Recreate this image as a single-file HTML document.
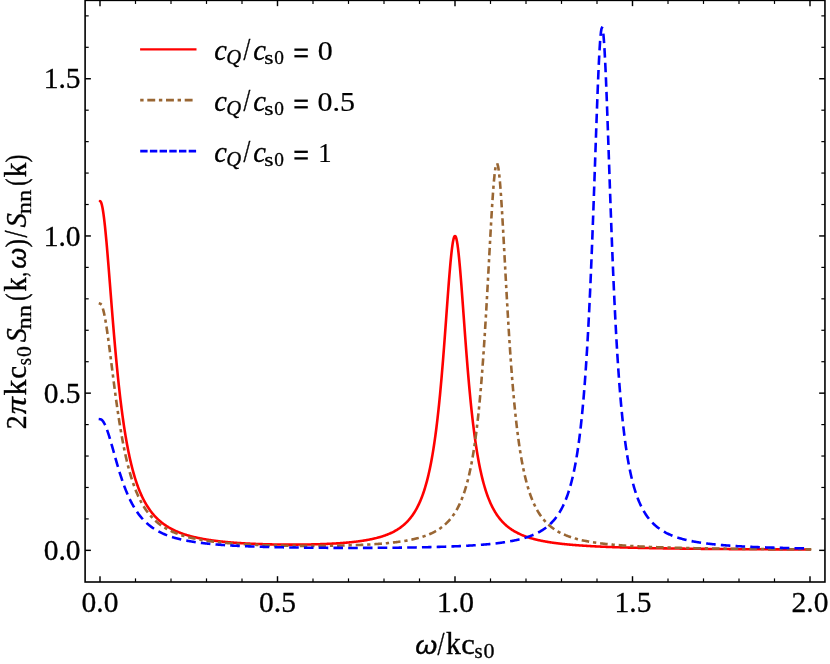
<!DOCTYPE html>
<html><head><meta charset="utf-8"><title>plot</title>
<style>
html,body{margin:0;padding:0;background:#fff;}
body{width:830px;height:664px;overflow:hidden;}
svg{display:block;will-change:transform;}
text{font-family:"Liberation Serif",serif;fill:#000;stroke:#000;}
.i{font-style:italic;}
.si{font-style:italic;font-family:"Liberation Sans",sans-serif;}
</style></head><body>
<svg width="830" height="664" viewBox="0 0 830 664">
<rect x="0" y="0" width="830" height="664" fill="#fff"/>
<!-- curves -->
<g fill="none" stroke-width="2.6" stroke-linejoin="round" stroke-linecap="square" transform="scale(1,0.987459)">
<path id="c-red" d="M100.00,203.600 L100.50,203.879 L101.00,204.716 L101.50,206.100 L102.00,208.021 L102.50,210.459 L103.00,213.393 L103.50,216.797 L104.00,220.642 L104.50,224.896 L105.00,229.524 L105.50,234.491 L106.00,239.761 L106.50,245.296 L107.00,251.061 L107.50,257.020 L108.00,263.137 L108.50,269.380 L109.00,275.717 L109.50,282.119 L110.00,288.558 L110.50,295.009 L111.00,301.448 L111.50,307.856 L112.00,314.213 L112.50,320.503 L113.00,326.712 L113.50,332.827 L114.00,338.837 L114.50,344.734 L115.00,350.510 L115.50,356.159 L116.00,361.677 L116.50,367.060 L117.00,372.305 L117.50,377.411 L118.00,382.377 L118.50,387.204 L119.00,391.891 L119.50,396.440 L120.00,400.853 L120.50,405.131 L121.00,409.278 L121.50,413.294 L122.00,417.184 L122.50,420.951 L123.00,424.596 L123.50,428.124 L124.00,431.538 L124.50,434.840 L125.00,438.036 L125.50,441.126 L126.00,444.116 L126.50,447.008 L127.00,449.806 L127.50,452.512 L128.00,455.129 L128.50,457.662 L129.00,460.112 L129.50,462.483 L130.00,464.777 L130.50,466.997 L131.00,469.147 L131.50,471.227 L132.00,473.241 L132.50,475.192 L133.00,477.081 L133.50,478.910 L134.00,480.683 L134.50,482.400 L135.00,484.065 L135.50,485.678 L136.00,487.242 L136.50,488.759 L137.00,490.230 L137.50,491.656 L138.00,493.040 L138.50,494.383 L139.00,495.687 L139.50,496.953 L140.00,498.181 L140.50,499.374 L141.00,500.533 L141.50,501.659 L142.00,502.753 L142.50,503.816 L143.00,504.850 L143.50,505.854 L144.00,506.832 L144.50,507.782 L145.00,508.706 L145.50,509.606 L146.00,510.481 L146.50,511.333 L147.00,512.162 L147.50,512.970 L148.00,513.756 L148.50,514.522 L149.00,515.269 L149.50,515.996 L150.00,516.704 L150.50,517.395 L151.00,518.069 L151.50,518.725 L152.00,519.366 L152.50,519.990 L153.00,520.600 L153.50,521.194 L154.00,521.774 L154.50,522.341 L155.00,522.893 L155.50,523.433 L156.00,523.960 L156.50,524.475 L157.00,524.978 L157.50,525.469 L158.00,525.949 L158.50,526.418 L159.00,526.876 L159.50,527.324 L160.00,527.762 L160.50,528.191 L161.00,528.610 L161.50,529.019 L162.00,529.420 L162.50,529.812 L163.00,530.196 L163.50,530.572 L164.00,530.939 L164.50,531.299 L165.00,531.651 L165.50,531.996 L166.00,532.333 L166.50,532.664 L167.00,532.988 L167.50,533.305 L168.00,533.616 L168.50,533.921 L169.00,534.219 L169.50,534.512 L170.00,534.799 L170.50,535.080 L171.00,535.355 L171.50,535.625 L172.00,535.890 L172.50,536.150 L173.00,536.405 L173.50,536.655 L174.00,536.900 L174.50,537.141 L175.00,537.377 L175.50,537.609 L176.00,537.836 L176.50,538.059 L177.00,538.278 L177.50,538.493 L178.00,538.705 L178.50,538.912 L179.00,539.116 L179.50,539.316 L180.00,539.512 L180.50,539.705 L181.00,539.894 L181.50,540.081 L182.00,540.263 L182.50,540.443 L183.00,540.620 L183.50,540.793 L184.00,540.964 L184.50,541.132 L185.00,541.296 L185.50,541.458 L186.00,541.618 L186.50,541.774 L187.00,541.928 L187.50,542.080 L188.00,542.229 L188.50,542.375 L189.00,542.519 L189.50,542.661 L190.00,542.800 L190.50,542.938 L191.00,543.073 L191.50,543.205 L192.00,543.336 L192.50,543.465 L193.00,543.591 L193.50,543.716 L194.00,543.838 L194.50,543.959 L195.00,544.078 L195.50,544.195 L196.00,544.310 L196.50,544.423 L197.00,544.535 L197.50,544.644 L198.00,544.753 L198.50,544.859 L199.00,544.964 L199.50,545.067 L200.00,545.169 L200.50,545.269 L201.00,545.368 L201.50,545.465 L202.00,545.561 L202.50,545.656 L203.00,545.749 L203.50,545.840 L204.00,545.930 L204.50,546.019 L205.00,546.107 L205.50,546.193 L206.00,546.279 L206.50,546.362 L207.00,546.445 L207.50,546.527 L208.00,546.607 L208.50,546.686 L209.00,546.764 L209.50,546.841 L210.00,546.917 L210.50,546.992 L211.00,547.065 L211.50,547.138 L212.00,547.210 L212.50,547.280 L213.00,547.350 L213.50,547.419 L214.00,547.486 L214.50,547.553 L215.00,547.619 L215.50,547.684 L216.00,547.748 L216.50,547.811 L217.00,547.873 L217.50,547.935 L218.00,547.995 L218.50,548.055 L219.00,548.114 L219.50,548.172 L220.00,548.229 L220.50,548.286 L221.00,548.341 L221.50,548.396 L222.00,548.451 L222.50,548.504 L223.00,548.557 L223.50,548.609 L224.00,548.660 L224.50,548.711 L225.00,548.761 L225.50,548.810 L226.00,548.859 L226.50,548.907 L227.00,548.954 L227.50,549.001 L228.00,549.047 L228.50,549.092 L229.00,549.137 L229.50,549.181 L230.00,549.225 L230.50,549.268 L231.00,549.310 L231.50,549.352 L232.00,549.393 L232.50,549.434 L233.00,549.474 L233.50,549.514 L234.00,549.553 L234.50,549.592 L235.00,549.630 L235.50,549.667 L236.00,549.704 L236.50,549.741 L237.00,549.777 L237.50,549.812 L238.00,549.847 L238.50,549.882 L239.00,549.916 L239.50,549.949 L240.00,549.982 L240.50,550.015 L241.00,550.047 L241.50,550.079 L242.00,550.110 L242.50,550.141 L243.00,550.171 L243.50,550.201 L244.00,550.231 L244.50,550.260 L245.00,550.289 L245.50,550.317 L246.00,550.345 L246.50,550.372 L247.00,550.400 L247.50,550.426 L248.00,550.453 L248.50,550.478 L249.00,550.504 L249.50,550.529 L250.00,550.554 L250.50,550.578 L251.00,550.602 L251.50,550.626 L252.00,550.649 L252.50,550.672 L253.00,550.695 L253.50,550.717 L254.00,550.739 L254.50,550.760 L255.00,550.782 L255.50,550.802 L256.00,550.823 L256.50,550.843 L257.00,550.863 L257.50,550.882 L258.00,550.901 L258.50,550.920 L259.00,550.939 L259.50,550.957 L260.00,550.975 L260.50,550.992 L261.00,551.010 L261.50,551.027 L262.00,551.043 L262.50,551.060 L263.00,551.076 L263.50,551.091 L264.00,551.107 L264.50,551.122 L265.00,551.137 L265.50,551.151 L266.00,551.165 L266.50,551.179 L267.00,551.193 L267.50,551.206 L268.00,551.219 L268.50,551.232 L269.00,551.245 L269.50,551.257 L270.00,551.269 L270.50,551.280 L271.00,551.292 L271.50,551.303 L272.00,551.314 L272.50,551.324 L273.00,551.334 L273.50,551.344 L274.00,551.354 L274.50,551.364 L275.00,551.373 L275.50,551.382 L276.00,551.390 L276.50,551.399 L277.00,551.407 L277.50,551.414 L278.00,551.422 L278.50,551.429 L279.00,551.436 L279.50,551.443 L280.00,551.450 L280.50,551.456 L281.00,551.462 L281.50,551.468 L282.00,551.473 L282.50,551.478 L283.00,551.483 L283.50,551.488 L284.00,551.492 L284.50,551.496 L285.00,551.500 L285.50,551.504 L286.00,551.507 L286.50,551.510 L287.00,551.513 L287.50,551.516 L288.00,551.518 L288.50,551.520 L289.00,551.522 L289.50,551.523 L290.00,551.525 L290.50,551.526 L291.00,551.526 L291.50,551.527 L292.00,551.527 L292.50,551.527 L293.00,551.527 L293.50,551.526 L294.00,551.525 L294.50,551.524 L295.00,551.523 L295.50,551.521 L296.00,551.519 L296.50,551.517 L297.00,551.515 L297.50,551.512 L298.00,551.509 L298.50,551.506 L299.00,551.502 L299.50,551.498 L300.00,551.494 L300.50,551.490 L301.00,551.485 L301.50,551.480 L302.00,551.475 L302.50,551.469 L303.00,551.464 L303.50,551.458 L304.00,551.451 L304.50,551.445 L305.00,551.438 L305.50,551.430 L306.00,551.423 L306.50,551.415 L307.00,551.407 L307.50,551.399 L308.00,551.390 L308.50,551.381 L309.00,551.371 L309.50,551.362 L310.00,551.352 L310.50,551.342 L311.00,551.331 L311.50,551.320 L312.00,551.309 L312.50,551.297 L313.00,551.286 L313.50,551.273 L314.00,551.261 L314.50,551.248 L315.00,551.235 L315.50,551.221 L316.00,551.207 L316.50,551.193 L317.00,551.179 L317.50,551.164 L318.00,551.149 L318.50,551.133 L319.00,551.117 L319.50,551.101 L320.00,551.084 L320.50,551.067 L321.00,551.049 L321.50,551.032 L322.00,551.013 L322.50,550.995 L323.00,550.976 L323.50,550.956 L324.00,550.937 L324.50,550.916 L325.00,550.896 L325.50,550.875 L326.00,550.853 L326.50,550.831 L327.00,550.809 L327.50,550.786 L328.00,550.763 L328.50,550.740 L329.00,550.716 L329.50,550.691 L330.00,550.666 L330.50,550.641 L331.00,550.615 L331.50,550.588 L332.00,550.561 L332.50,550.534 L333.00,550.506 L333.50,550.478 L334.00,550.449 L334.50,550.420 L335.00,550.390 L335.50,550.359 L336.00,550.328 L336.50,550.297 L337.00,550.265 L337.50,550.232 L338.00,550.199 L338.50,550.165 L339.00,550.130 L339.50,550.095 L340.00,550.060 L340.50,550.024 L341.00,549.987 L341.50,549.949 L342.00,549.911 L342.50,549.872 L343.00,549.833 L343.50,549.793 L344.00,549.752 L344.50,549.711 L345.00,549.668 L345.50,549.626 L346.00,549.582 L346.50,549.538 L347.00,549.492 L347.50,549.447 L348.00,549.400 L348.50,549.353 L349.00,549.304 L349.50,549.255 L350.00,549.205 L350.50,549.155 L351.00,549.103 L351.50,549.050 L352.00,548.997 L352.50,548.943 L353.00,548.888 L353.50,548.831 L354.00,548.774 L354.50,548.716 L355.00,548.657 L355.50,548.597 L356.00,548.536 L356.50,548.474 L357.00,548.411 L357.50,548.346 L358.00,548.281 L358.50,548.215 L359.00,548.147 L359.50,548.078 L360.00,548.008 L360.50,547.937 L361.00,547.864 L361.50,547.790 L362.00,547.715 L362.50,547.639 L363.00,547.561 L363.50,547.482 L364.00,547.402 L364.50,547.320 L365.00,547.237 L365.50,547.152 L366.00,547.065 L366.50,546.977 L367.00,546.888 L367.50,546.797 L368.00,546.704 L368.50,546.610 L369.00,546.513 L369.50,546.415 L370.00,546.316 L370.50,546.214 L371.00,546.111 L371.50,546.005 L372.00,545.898 L372.50,545.789 L373.00,545.677 L373.50,545.564 L374.00,545.448 L374.50,545.330 L375.00,545.210 L375.50,545.088 L376.00,544.963 L376.50,544.836 L377.00,544.706 L377.50,544.574 L378.00,544.439 L378.50,544.302 L379.00,544.162 L379.50,544.019 L380.00,543.873 L380.50,543.725 L381.00,543.573 L381.50,543.418 L382.00,543.260 L382.50,543.099 L383.00,542.935 L383.50,542.767 L384.00,542.595 L384.50,542.420 L385.00,542.242 L385.50,542.059 L386.00,541.873 L386.50,541.683 L387.00,541.489 L387.50,541.290 L388.00,541.087 L388.50,540.880 L389.00,540.668 L389.50,540.452 L390.00,540.230 L390.50,540.004 L391.00,539.773 L391.50,539.536 L392.00,539.294 L392.50,539.046 L393.00,538.793 L393.50,538.534 L394.00,538.269 L394.50,537.997 L395.00,537.719 L395.50,537.435 L396.00,537.144 L396.50,536.845 L397.00,536.540 L397.50,536.227 L398.00,535.906 L398.50,535.577 L399.00,535.240 L399.50,534.895 L400.00,534.541 L400.50,534.177 L401.00,533.805 L401.50,533.423 L402.00,533.031 L402.50,532.628 L403.00,532.215 L403.50,531.791 L404.00,531.356 L404.50,530.909 L405.00,530.449 L405.50,529.977 L406.00,529.492 L406.50,528.994 L407.00,528.481 L407.50,527.954 L408.00,527.412 L408.50,526.855 L409.00,526.281 L409.50,525.691 L410.00,525.083 L410.50,524.457 L411.00,523.812 L411.50,523.148 L412.00,522.464 L412.50,521.759 L413.00,521.032 L413.50,520.283 L414.00,519.510 L414.50,518.713 L415.00,517.890 L415.50,517.040 L416.00,516.164 L416.50,515.258 L417.00,514.323 L417.50,513.356 L418.00,512.357 L418.50,511.325 L419.00,510.257 L419.50,509.153 L420.00,508.010 L420.50,506.828 L421.00,505.603 L421.50,504.336 L422.00,503.023 L422.50,501.663 L423.00,500.253 L423.50,498.792 L424.00,497.276 L424.50,495.705 L425.00,494.074 L425.50,492.382 L426.00,490.626 L426.50,488.802 L427.00,486.908 L427.50,484.941 L428.00,482.896 L428.50,480.772 L429.00,478.563 L429.50,476.267 L430.00,473.880 L430.50,471.396 L431.00,468.813 L431.50,466.125 L432.00,463.328 L432.50,460.417 L433.00,457.388 L433.50,454.236 L434.00,450.956 L434.50,447.541 L435.00,443.989 L435.50,440.292 L436.00,436.446 L436.50,432.447 L437.00,428.289 L437.50,423.967 L438.00,419.477 L438.50,414.816 L439.00,409.979 L439.50,404.964 L440.00,399.769 L440.50,394.393 L441.00,388.835 L441.50,383.099 L442.00,377.186 L442.50,371.101 L443.00,364.852 L443.50,358.449 L444.00,351.903 L444.50,345.229 L445.00,338.447 L445.50,331.577 L446.00,324.648 L446.50,317.687 L447.00,310.729 L447.50,303.813 L448.00,296.981 L448.50,290.279 L449.00,283.756 L449.50,277.467 L450.00,271.465 L450.50,265.808 L451.00,260.553 L451.50,255.755 L452.00,251.470 L452.50,247.748 L453.00,244.634 L453.50,242.169 L454.00,240.385 L454.50,239.306 L455.00,238.947 L455.50,239.312 L456.00,240.396 L456.50,242.185 L457.00,244.656 L457.50,247.774 L458.00,251.502 L458.50,255.793 L459.00,260.595 L459.50,265.856 L460.00,271.518 L460.50,277.525 L461.00,283.820 L461.50,290.348 L462.00,297.055 L462.50,303.893 L463.00,310.815 L463.50,317.777 L464.00,324.744 L464.50,331.679 L465.00,338.553 L465.50,345.341 L466.00,352.020 L466.50,358.572 L467.00,364.981 L467.50,371.235 L468.00,377.325 L468.50,383.243 L469.00,388.985 L469.50,394.548 L470.00,399.929 L470.50,405.130 L471.00,410.150 L471.50,414.992 L472.00,419.659 L472.50,424.154 L473.00,428.482 L473.50,432.645 L474.00,436.650 L474.50,440.501 L475.00,444.203 L475.50,447.761 L476.00,451.181 L476.50,454.467 L477.00,457.625 L477.50,460.659 L478.00,463.575 L478.50,466.377 L479.00,469.071 L479.50,471.660 L480.00,474.149 L480.50,476.542 L481.00,478.843 L481.50,481.057 L482.00,483.187 L482.50,485.237 L483.00,487.210 L483.50,489.109 L484.00,490.939 L484.50,492.701 L485.00,494.398 L485.50,496.034 L486.00,497.611 L486.50,499.132 L487.00,500.599 L487.50,502.015 L488.00,503.380 L488.50,504.699 L489.00,505.972 L489.50,507.202 L490.00,508.390 L490.50,509.538 L491.00,510.648 L491.50,511.722 L492.00,512.760 L492.50,513.765 L493.00,514.737 L493.50,515.678 L494.00,516.589 L494.50,517.471 L495.00,518.326 L495.50,519.155 L496.00,519.958 L496.50,520.737 L497.00,521.492 L497.50,522.225 L498.00,522.935 L498.50,523.625 L499.00,524.295 L499.50,524.946 L500.00,525.577 L500.50,526.191 L501.00,526.787 L501.50,527.367 L502.00,527.930 L502.50,528.478 L503.00,529.011 L503.50,529.529 L504.00,530.034 L504.50,530.525 L505.00,531.003 L505.50,531.468 L506.00,531.921 L506.50,532.362 L507.00,532.792 L507.50,533.212 L508.00,533.620 L508.50,534.018 L509.00,534.406 L509.50,534.785 L510.00,535.154 L510.50,535.514 L511.00,535.866 L511.50,536.209 L512.00,536.544 L512.50,536.871 L513.00,537.190 L513.50,537.502 L514.00,537.807 L514.50,538.104 L515.00,538.395 L515.50,538.679 L516.00,538.957 L516.50,539.228 L517.00,539.494 L517.50,539.753 L518.00,540.007 L518.50,540.255 L519.00,540.498 L519.50,540.736 L520.00,540.969 L520.50,541.197 L521.00,541.420 L521.50,541.638 L522.00,541.852 L522.50,542.061 L523.00,542.266 L523.50,542.467 L524.00,542.664 L524.50,542.857 L525.00,543.046 L525.50,543.231 L526.00,543.413 L526.50,543.591 L527.00,543.765 L527.50,543.936 L528.00,544.104 L528.50,544.269 L529.00,544.430 L529.50,544.589 L530.00,544.744 L530.50,544.897 L531.00,545.047 L531.50,545.194 L532.00,545.338 L532.50,545.480 L533.00,545.619 L533.50,545.755 L534.00,545.890 L534.50,546.021 L535.00,546.151 L535.50,546.278 L536.00,546.403 L536.50,546.526 L537.00,546.646 L537.50,546.765 L538.00,546.881 L538.50,546.996 L539.00,547.109 L539.50,547.219 L540.00,547.328 L540.50,547.435 L541.00,547.540 L541.50,547.644 L542.00,547.746 L542.50,547.846 L543.00,547.945 L543.50,548.042 L544.00,548.137 L544.50,548.231 L545.00,548.323 L545.50,548.414 L546.00,548.504 L546.50,548.592 L547.00,548.679 L547.50,548.764 L548.00,548.849 L548.50,548.931 L549.00,549.013 L549.50,549.093 L550.00,549.172 L550.50,549.250 L551.00,549.327 L551.50,549.403 L552.00,549.477 L552.50,549.551 L553.00,549.623 L553.50,549.695 L554.00,549.765 L554.50,549.834 L555.00,549.903 L555.50,549.970 L556.00,550.036 L556.50,550.102 L557.00,550.166 L557.50,550.230 L558.00,550.292 L558.50,550.354 L559.00,550.415 L559.50,550.475 L560.00,550.535 L560.50,550.593 L561.00,550.651 L561.50,550.708 L562.00,550.764 L562.50,550.820 L563.00,550.874 L563.50,550.928 L564.00,550.982 L564.50,551.034 L565.00,551.086 L565.50,551.137 L566.00,551.188 L566.50,551.238 L567.00,551.287 L567.50,551.336 L568.00,551.384 L568.50,551.431 L569.00,551.478 L569.50,551.524 L570.00,551.570 L570.50,551.615 L571.00,551.660 L571.50,551.704 L572.00,551.747 L572.50,551.790 L573.00,551.832 L573.50,551.874 L574.00,551.916 L574.50,551.957 L575.00,551.997 L575.50,552.037 L576.00,552.076 L576.50,552.115 L577.00,552.154 L577.50,552.192 L578.00,552.229 L578.50,552.267 L579.00,552.303 L579.50,552.340 L580.00,552.376 L580.50,552.411 L581.00,552.446 L581.50,552.481 L582.00,552.515 L582.50,552.549 L583.00,552.583 L583.50,552.616 L584.00,552.649 L584.50,552.681 L585.00,552.713 L585.50,552.745 L586.00,552.776 L586.50,552.807 L587.00,552.838 L587.50,552.868 L588.00,552.898 L588.50,552.928 L589.00,552.957 L589.50,552.986 L590.00,553.015 L590.50,553.044 L591.00,553.072 L591.50,553.100 L592.00,553.127 L592.50,553.155 L593.00,553.182 L593.50,553.208 L594.00,553.235 L594.50,553.261 L595.00,553.287 L595.50,553.312 L596.00,553.338 L596.50,553.363 L597.00,553.388 L597.50,553.412 L598.00,553.437 L598.50,553.461 L599.00,553.485 L599.50,553.509 L600.00,553.532 L600.50,553.555 L601.00,553.578 L601.50,553.601 L602.00,553.623 L602.50,553.646 L603.00,553.668 L603.50,553.690 L604.00,553.711 L604.50,553.733 L605.00,553.754 L605.50,553.775 L606.00,553.796 L606.50,553.817 L607.00,553.837 L607.50,553.857 L608.00,553.877 L608.50,553.897 L609.00,553.917 L609.50,553.936 L610.00,553.956 L610.50,553.975 L611.00,553.994 L611.50,554.013 L612.00,554.031 L612.50,554.050 L613.00,554.068 L613.50,554.086 L614.00,554.104 L614.50,554.122 L615.00,554.140 L615.50,554.157 L616.00,554.175 L616.50,554.192 L617.00,554.209 L617.50,554.226 L618.00,554.243 L618.50,554.259 L619.00,554.276 L619.50,554.292 L620.00,554.308 L620.50,554.324 L621.00,554.340 L621.50,554.356 L622.00,554.371 L622.50,554.387 L623.00,554.402 L623.50,554.418 L624.00,554.433 L624.50,554.448 L625.00,554.462 L625.50,554.477 L626.00,554.492 L626.50,554.506 L627.00,554.521 L627.50,554.535 L628.00,554.549 L628.50,554.563 L629.00,554.577 L629.50,554.591 L630.00,554.604 L630.50,554.618 L631.00,554.631 L631.50,554.645 L632.00,554.658 L632.50,554.671 L633.00,554.684 L633.50,554.697 L634.00,554.710 L634.50,554.723 L635.00,554.735 L635.50,554.748 L636.00,554.760 L636.50,554.773 L637.00,554.785 L637.50,554.797 L638.00,554.809 L638.50,554.821 L639.00,554.833 L639.50,554.844 L640.00,554.856 L640.50,554.868 L641.00,554.879 L641.50,554.891 L642.00,554.902 L642.50,554.913 L643.00,554.924 L643.50,554.935 L644.00,554.946 L644.50,554.957 L645.00,554.968 L645.50,554.979 L646.00,554.990 L646.50,555.000 L647.00,555.011 L647.50,555.021 L648.00,555.031 L648.50,555.042 L649.00,555.052 L649.50,555.062 L650.00,555.072 L650.50,555.082 L651.00,555.092 L651.50,555.102 L652.00,555.112 L652.50,555.121 L653.00,555.131 L653.50,555.140 L654.00,555.150 L654.50,555.159 L655.00,555.169 L655.50,555.178 L656.00,555.187 L656.50,555.196 L657.00,555.206 L657.50,555.215 L658.00,555.224 L658.50,555.232 L659.00,555.241 L659.50,555.250 L660.00,555.259 L660.50,555.267 L661.00,555.276 L661.50,555.285 L662.00,555.293 L662.50,555.302 L663.00,555.310 L663.50,555.318 L664.00,555.327 L664.50,555.335 L665.00,555.343 L665.50,555.351 L666.00,555.359 L666.50,555.367 L667.00,555.375 L667.50,555.383 L668.00,555.391 L668.50,555.398 L669.00,555.406 L669.50,555.414 L670.00,555.422 L670.50,555.429 L671.00,555.437 L671.50,555.444 L672.00,555.452 L672.50,555.459 L673.00,555.466 L673.50,555.474 L674.00,555.481 L674.50,555.488 L675.00,555.495 L675.50,555.502 L676.00,555.509 L676.50,555.516 L677.00,555.523 L677.50,555.530 L678.00,555.537 L678.50,555.544 L679.00,555.551 L679.50,555.558 L680.00,555.564 L680.50,555.571 L681.00,555.578 L681.50,555.584 L682.00,555.591 L682.50,555.597 L683.00,555.604 L683.50,555.610 L684.00,555.617 L684.50,555.623 L685.00,555.629 L685.50,555.636 L686.00,555.642 L686.50,555.648 L687.00,555.654 L687.50,555.660 L688.00,555.666 L688.50,555.672 L689.00,555.678 L689.50,555.684 L690.00,555.690 L690.50,555.696 L691.00,555.702 L691.50,555.708 L692.00,555.714 L692.50,555.720 L693.00,555.725 L693.50,555.731 L694.00,555.737 L694.50,555.742 L695.00,555.748 L695.50,555.754 L696.00,555.759 L696.50,555.765 L697.00,555.770 L697.50,555.776 L698.00,555.781 L698.50,555.786 L699.00,555.792 L699.50,555.797 L700.00,555.802 L700.50,555.808 L701.00,555.813 L701.50,555.818 L702.00,555.823 L702.50,555.828 L703.00,555.833 L703.50,555.839 L704.00,555.844 L704.50,555.849 L705.00,555.854 L705.50,555.859 L706.00,555.864 L706.50,555.869 L707.00,555.873 L707.50,555.878 L708.00,555.883 L708.50,555.888 L709.00,555.893 L709.50,555.898 L710.00,555.902 L710.50,555.907 L711.00,555.912 L711.50,555.916 L712.00,555.921 L712.50,555.926 L713.00,555.930 L713.50,555.935 L714.00,555.939 L714.50,555.944 L715.00,555.948 L715.50,555.953 L716.00,555.957 L716.50,555.962 L717.00,555.966 L717.50,555.970 L718.00,555.975 L718.50,555.979 L719.00,555.983 L719.50,555.988 L720.00,555.992 L720.50,555.996 L721.00,556.000 L721.50,556.005 L722.00,556.009 L722.50,556.013 L723.00,556.017 L723.50,556.021 L724.00,556.025 L724.50,556.029 L725.00,556.033 L725.50,556.037 L726.00,556.041 L726.50,556.045 L727.00,556.049 L727.50,556.053 L728.00,556.057 L728.50,556.061 L729.00,556.065 L729.50,556.069 L730.00,556.073 L730.50,556.076 L731.00,556.080 L731.50,556.084 L732.00,556.088 L732.50,556.092 L733.00,556.095 L733.50,556.099 L734.00,556.103 L734.50,556.106 L735.00,556.110 L735.50,556.114 L736.00,556.117 L736.50,556.121 L737.00,556.125 L737.50,556.128 L738.00,556.132 L738.50,556.135 L739.00,556.139 L739.50,556.142 L740.00,556.146 L740.50,556.149 L741.00,556.153 L741.50,556.156 L742.00,556.159 L742.50,556.163 L743.00,556.166 L743.50,556.170 L744.00,556.173 L744.50,556.176 L745.00,556.180 L745.50,556.183 L746.00,556.186 L746.50,556.190 L747.00,556.193 L747.50,556.196 L748.00,556.199 L748.50,556.202 L749.00,556.206 L749.50,556.209 L750.00,556.212 L750.50,556.215 L751.00,556.218 L751.50,556.221 L752.00,556.225 L752.50,556.228 L753.00,556.231 L753.50,556.234 L754.00,556.237 L754.50,556.240 L755.00,556.243 L755.50,556.246 L756.00,556.249 L756.50,556.252 L757.00,556.255 L757.50,556.258 L758.00,556.261 L758.50,556.264 L759.00,556.267 L759.50,556.270 L760.00,556.272 L760.50,556.275 L761.00,556.278 L761.50,556.281 L762.00,556.284 L762.50,556.287 L763.00,556.290 L763.50,556.292 L764.00,556.295 L764.50,556.298 L765.00,556.301 L765.50,556.303 L766.00,556.306 L766.50,556.309 L767.00,556.312 L767.50,556.314 L768.00,556.317 L768.50,556.320 L769.00,556.322 L769.50,556.325 L770.00,556.328 L770.50,556.330 L771.00,556.333 L771.50,556.336 L772.00,556.338 L772.50,556.341 L773.00,556.343 L773.50,556.346 L774.00,556.349 L774.50,556.351 L775.00,556.354 L775.50,556.356 L776.00,556.359 L776.50,556.361 L777.00,556.364 L777.50,556.366 L778.00,556.369 L778.50,556.371 L779.00,556.374 L779.50,556.376 L780.00,556.378 L780.50,556.381 L781.00,556.383 L781.50,556.386 L782.00,556.388 L782.50,556.390 L783.00,556.393 L783.50,556.395 L784.00,556.398 L784.50,556.400 L785.00,556.402 L785.50,556.405 L786.00,556.407 L786.50,556.409 L787.00,556.412 L787.50,556.414 L788.00,556.416 L788.50,556.418 L789.00,556.421 L789.50,556.423 L790.00,556.425 L790.50,556.427 L791.00,556.430 L791.50,556.432 L792.00,556.434 L792.50,556.436 L793.00,556.438 L793.50,556.441 L794.00,556.443 L794.50,556.445 L795.00,556.447 L795.50,556.449 L796.00,556.451 L796.50,556.453 L797.00,556.456 L797.50,556.458 L798.00,556.460 L798.50,556.462 L799.00,556.464 L799.50,556.466 L800.00,556.468 L800.50,556.470 L801.00,556.472 L801.50,556.474 L802.00,556.476 L802.50,556.478 L803.00,556.480 L803.50,556.482 L804.00,556.484 L804.50,556.486 L805.00,556.488 L805.50,556.490 L806.00,556.492 L806.50,556.494 L807.00,556.496 L807.50,556.498 L808.00,556.500 L808.50,556.502 L809.00,556.504 L809.50,556.506 L810.00,556.508" stroke="#ff0000" stroke-linecap="round"/>
<path id="c-brown" d="M100.00,307.499 L100.50,307.653 L101.00,308.113 L101.50,308.876 L102.00,309.936 L102.50,311.285 L103.00,312.915 L103.50,314.813 L104.00,316.966 L104.50,319.361 L105.00,321.982 L105.50,324.812 L106.00,327.834 L106.50,331.030 L107.00,334.383 L107.50,337.876 L108.00,341.489 L108.50,345.207 L109.00,349.012 L109.50,352.888 L110.00,356.820 L110.50,360.793 L111.00,364.794 L111.50,368.808 L112.00,372.826 L112.50,376.835 L113.00,380.826 L113.50,384.790 L114.00,388.718 L114.50,392.604 L115.00,396.441 L115.50,400.224 L116.00,403.947 L116.50,407.607 L117.00,411.200 L117.50,414.723 L118.00,418.174 L118.50,421.552 L119.00,424.854 L119.50,428.080 L120.00,431.229 L120.50,434.302 L121.00,437.298 L121.50,440.217 L122.00,443.061 L122.50,445.829 L123.00,448.523 L123.50,451.144 L124.00,453.693 L124.50,456.171 L125.00,458.580 L125.50,460.921 L126.00,463.196 L126.50,465.406 L127.00,467.553 L127.50,469.638 L128.00,471.663 L128.50,473.630 L129.00,475.540 L129.50,477.395 L130.00,479.196 L130.50,480.945 L131.00,482.643 L131.50,484.293 L132.00,485.895 L132.50,487.451 L133.00,488.962 L133.50,490.430 L134.00,491.856 L134.50,493.242 L135.00,494.588 L135.50,495.896 L136.00,497.167 L136.50,498.402 L137.00,499.603 L137.50,500.771 L138.00,501.906 L138.50,503.010 L139.00,504.084 L139.50,505.128 L140.00,506.144 L140.50,507.132 L141.00,508.094 L141.50,509.030 L142.00,509.941 L142.50,510.827 L143.00,511.691 L143.50,512.532 L144.00,513.351 L144.50,514.148 L145.00,514.926 L145.50,515.683 L146.00,516.421 L146.50,517.140 L147.00,517.841 L147.50,518.524 L148.00,519.191 L148.50,519.841 L149.00,520.475 L149.50,521.093 L150.00,521.697 L150.50,522.286 L151.00,522.860 L151.50,523.421 L152.00,523.969 L152.50,524.503 L153.00,525.026 L153.50,525.535 L154.00,526.034 L154.50,526.520 L155.00,526.996 L155.50,527.460 L156.00,527.914 L156.50,528.358 L157.00,528.792 L157.50,529.216 L158.00,529.631 L158.50,530.037 L159.00,530.434 L159.50,530.822 L160.00,531.202 L160.50,531.574 L161.00,531.938 L161.50,532.294 L162.00,532.642 L162.50,532.983 L163.00,533.317 L163.50,533.644 L164.00,533.965 L164.50,534.279 L165.00,534.586 L165.50,534.887 L166.00,535.182 L166.50,535.471 L167.00,535.755 L167.50,536.032 L168.00,536.305 L168.50,536.572 L169.00,536.833 L169.50,537.090 L170.00,537.342 L170.50,537.588 L171.00,537.831 L171.50,538.068 L172.00,538.301 L172.50,538.530 L173.00,538.754 L173.50,538.974 L174.00,539.190 L174.50,539.403 L175.00,539.611 L175.50,539.815 L176.00,540.016 L176.50,540.213 L177.00,540.407 L177.50,540.597 L178.00,540.783 L178.50,540.967 L179.00,541.147 L179.50,541.324 L180.00,541.498 L180.50,541.669 L181.00,541.837 L181.50,542.002 L182.00,542.164 L182.50,542.324 L183.00,542.481 L183.50,542.635 L184.00,542.787 L184.50,542.936 L185.00,543.082 L185.50,543.226 L186.00,543.368 L186.50,543.508 L187.00,543.645 L187.50,543.780 L188.00,543.912 L188.50,544.043 L189.00,544.172 L189.50,544.298 L190.00,544.423 L190.50,544.545 L191.00,544.666 L191.50,544.784 L192.00,544.901 L192.50,545.016 L193.00,545.129 L193.50,545.241 L194.00,545.351 L194.50,545.459 L195.00,545.565 L195.50,545.670 L196.00,545.773 L196.50,545.875 L197.00,545.975 L197.50,546.074 L198.00,546.171 L198.50,546.266 L199.00,546.361 L199.50,546.454 L200.00,546.545 L200.50,546.635 L201.00,546.724 L201.50,546.812 L202.00,546.898 L202.50,546.983 L203.00,547.067 L203.50,547.150 L204.00,547.231 L204.50,547.312 L205.00,547.391 L205.50,547.469 L206.00,547.546 L206.50,547.622 L207.00,547.697 L207.50,547.771 L208.00,547.843 L208.50,547.915 L209.00,547.986 L209.50,548.056 L210.00,548.125 L210.50,548.192 L211.00,548.259 L211.50,548.325 L212.00,548.391 L212.50,548.455 L213.00,548.518 L213.50,548.581 L214.00,548.643 L214.50,548.704 L215.00,548.764 L215.50,548.823 L216.00,548.881 L216.50,548.939 L217.00,548.996 L217.50,549.052 L218.00,549.108 L218.50,549.162 L219.00,549.217 L219.50,549.270 L220.00,549.322 L220.50,549.374 L221.00,549.426 L221.50,549.476 L222.00,549.526 L222.50,549.576 L223.00,549.624 L223.50,549.672 L224.00,549.720 L224.50,549.767 L225.00,549.813 L225.50,549.858 L226.00,549.903 L226.50,549.948 L227.00,549.992 L227.50,550.035 L228.00,550.078 L228.50,550.120 L229.00,550.162 L229.50,550.203 L230.00,550.244 L230.50,550.284 L231.00,550.324 L231.50,550.363 L232.00,550.402 L232.50,550.440 L233.00,550.478 L233.50,550.515 L234.00,550.552 L234.50,550.588 L235.00,550.624 L235.50,550.659 L236.00,550.694 L236.50,550.729 L237.00,550.763 L237.50,550.797 L238.00,550.830 L238.50,550.863 L239.00,550.895 L239.50,550.927 L240.00,550.959 L240.50,550.990 L241.00,551.021 L241.50,551.052 L242.00,551.082 L242.50,551.111 L243.00,551.141 L243.50,551.170 L244.00,551.198 L244.50,551.227 L245.00,551.255 L245.50,551.282 L246.00,551.310 L246.50,551.336 L247.00,551.363 L247.50,551.389 L248.00,551.415 L248.50,551.441 L249.00,551.466 L249.50,551.491 L250.00,551.515 L250.50,551.540 L251.00,551.564 L251.50,551.587 L252.00,551.611 L252.50,551.634 L253.00,551.657 L253.50,551.679 L254.00,551.701 L254.50,551.723 L255.00,551.745 L255.50,551.766 L256.00,551.788 L256.50,551.808 L257.00,551.829 L257.50,551.849 L258.00,551.869 L258.50,551.889 L259.00,551.908 L259.50,551.928 L260.00,551.947 L260.50,551.965 L261.00,551.984 L261.50,552.002 L262.00,552.020 L262.50,552.038 L263.00,552.055 L263.50,552.072 L264.00,552.089 L264.50,552.106 L265.00,552.123 L265.50,552.139 L266.00,552.155 L266.50,552.171 L267.00,552.187 L267.50,552.202 L268.00,552.217 L268.50,552.232 L269.00,552.247 L269.50,552.261 L270.00,552.276 L270.50,552.290 L271.00,552.304 L271.50,552.317 L272.00,552.331 L272.50,552.344 L273.00,552.357 L273.50,552.370 L274.00,552.382 L274.50,552.395 L275.00,552.407 L275.50,552.419 L276.00,552.431 L276.50,552.442 L277.00,552.454 L277.50,552.465 L278.00,552.476 L278.50,552.487 L279.00,552.498 L279.50,552.508 L280.00,552.518 L280.50,552.528 L281.00,552.538 L281.50,552.548 L282.00,552.558 L282.50,552.567 L283.00,552.576 L283.50,552.585 L284.00,552.594 L284.50,552.603 L285.00,552.611 L285.50,552.619 L286.00,552.627 L286.50,552.635 L287.00,552.643 L287.50,552.651 L288.00,552.658 L288.50,552.665 L289.00,552.672 L289.50,552.679 L290.00,552.686 L290.50,552.692 L291.00,552.699 L291.50,552.705 L292.00,552.711 L292.50,552.717 L293.00,552.722 L293.50,552.728 L294.00,552.733 L294.50,552.739 L295.00,552.744 L295.50,552.748 L296.00,552.753 L296.50,552.758 L297.00,552.762 L297.50,552.766 L298.00,552.770 L298.50,552.774 L299.00,552.778 L299.50,552.781 L300.00,552.785 L300.50,552.788 L301.00,552.791 L301.50,552.794 L302.00,552.796 L302.50,552.799 L303.00,552.801 L303.50,552.804 L304.00,552.806 L304.50,552.808 L305.00,552.809 L305.50,552.811 L306.00,552.812 L306.50,552.814 L307.00,552.815 L307.50,552.816 L308.00,552.816 L308.50,552.817 L309.00,552.817 L309.50,552.818 L310.00,552.818 L310.50,552.818 L311.00,552.818 L311.50,552.817 L312.00,552.817 L312.50,552.816 L313.00,552.815 L313.50,552.814 L314.00,552.813 L314.50,552.811 L315.00,552.810 L315.50,552.808 L316.00,552.806 L316.50,552.804 L317.00,552.802 L317.50,552.800 L318.00,552.797 L318.50,552.794 L319.00,552.792 L319.50,552.789 L320.00,552.785 L320.50,552.782 L321.00,552.778 L321.50,552.775 L322.00,552.771 L322.50,552.767 L323.00,552.762 L323.50,552.758 L324.00,552.753 L324.50,552.748 L325.00,552.743 L325.50,552.738 L326.00,552.733 L326.50,552.727 L327.00,552.722 L327.50,552.716 L328.00,552.710 L328.50,552.703 L329.00,552.697 L329.50,552.690 L330.00,552.684 L330.50,552.677 L331.00,552.669 L331.50,552.662 L332.00,552.654 L332.50,552.647 L333.00,552.639 L333.50,552.630 L334.00,552.622 L334.50,552.613 L335.00,552.605 L335.50,552.596 L336.00,552.586 L336.50,552.577 L337.00,552.567 L337.50,552.558 L338.00,552.548 L338.50,552.537 L339.00,552.527 L339.50,552.516 L340.00,552.505 L340.50,552.494 L341.00,552.483 L341.50,552.471 L342.00,552.460 L342.50,552.448 L343.00,552.435 L343.50,552.423 L344.00,552.410 L344.50,552.397 L345.00,552.384 L345.50,552.371 L346.00,552.357 L346.50,552.343 L347.00,552.329 L347.50,552.314 L348.00,552.300 L348.50,552.285 L349.00,552.270 L349.50,552.254 L350.00,552.239 L350.50,552.223 L351.00,552.206 L351.50,552.190 L352.00,552.173 L352.50,552.156 L353.00,552.139 L353.50,552.121 L354.00,552.103 L354.50,552.085 L355.00,552.067 L355.50,552.048 L356.00,552.029 L356.50,552.010 L357.00,551.990 L357.50,551.970 L358.00,551.950 L358.50,551.929 L359.00,551.908 L359.50,551.887 L360.00,551.865 L360.50,551.843 L361.00,551.821 L361.50,551.798 L362.00,551.775 L362.50,551.752 L363.00,551.729 L363.50,551.705 L364.00,551.680 L364.50,551.655 L365.00,551.630 L365.50,551.605 L366.00,551.579 L366.50,551.553 L367.00,551.526 L367.50,551.499 L368.00,551.472 L368.50,551.444 L369.00,551.416 L369.50,551.387 L370.00,551.358 L370.50,551.328 L371.00,551.298 L371.50,551.268 L372.00,551.237 L372.50,551.206 L373.00,551.174 L373.50,551.142 L374.00,551.109 L374.50,551.076 L375.00,551.042 L375.50,551.008 L376.00,550.973 L376.50,550.938 L377.00,550.902 L377.50,550.866 L378.00,550.829 L378.50,550.792 L379.00,550.754 L379.50,550.715 L380.00,550.676 L380.50,550.636 L381.00,550.596 L381.50,550.555 L382.00,550.514 L382.50,550.472 L383.00,550.429 L383.50,550.386 L384.00,550.342 L384.50,550.297 L385.00,550.252 L385.50,550.206 L386.00,550.159 L386.50,550.112 L387.00,550.064 L387.50,550.015 L388.00,549.966 L388.50,549.915 L389.00,549.864 L389.50,549.812 L390.00,549.760 L390.50,549.706 L391.00,549.652 L391.50,549.597 L392.00,549.541 L392.50,549.484 L393.00,549.426 L393.50,549.367 L394.00,549.308 L394.50,549.247 L395.00,549.186 L395.50,549.123 L396.00,549.060 L396.50,548.996 L397.00,548.930 L397.50,548.864 L398.00,548.796 L398.50,548.727 L399.00,548.658 L399.50,548.587 L400.00,548.515 L400.50,548.442 L401.00,548.367 L401.50,548.291 L402.00,548.215 L402.50,548.137 L403.00,548.057 L403.50,547.976 L404.00,547.894 L404.50,547.811 L405.00,547.726 L405.50,547.640 L406.00,547.552 L406.50,547.463 L407.00,547.372 L407.50,547.279 L408.00,547.185 L408.50,547.090 L409.00,546.993 L409.50,546.894 L410.00,546.793 L410.50,546.691 L411.00,546.586 L411.50,546.480 L412.00,546.372 L412.50,546.262 L413.00,546.150 L413.50,546.036 L414.00,545.920 L414.50,545.802 L415.00,545.682 L415.50,545.559 L416.00,545.435 L416.50,545.308 L417.00,545.178 L417.50,545.046 L418.00,544.912 L418.50,544.775 L419.00,544.635 L419.50,544.493 L420.00,544.348 L420.50,544.200 L421.00,544.049 L421.50,543.896 L422.00,543.739 L422.50,543.579 L423.00,543.416 L423.50,543.250 L424.00,543.080 L424.50,542.907 L425.00,542.730 L425.50,542.550 L426.00,542.366 L426.50,542.178 L427.00,541.986 L427.50,541.791 L428.00,541.591 L428.50,541.387 L429.00,541.178 L429.50,540.965 L430.00,540.747 L430.50,540.525 L431.00,540.298 L431.50,540.066 L432.00,539.828 L432.50,539.585 L433.00,539.337 L433.50,539.083 L434.00,538.824 L434.50,538.558 L435.00,538.286 L435.50,538.008 L436.00,537.723 L436.50,537.432 L437.00,537.134 L437.50,536.828 L438.00,536.516 L438.50,536.195 L439.00,535.867 L439.50,535.531 L440.00,535.186 L440.50,534.833 L441.00,534.471 L441.50,534.100 L442.00,533.719 L442.50,533.328 L443.00,532.927 L443.50,532.516 L444.00,532.094 L444.50,531.661 L445.00,531.216 L445.50,530.759 L446.00,530.290 L446.50,529.808 L447.00,529.313 L447.50,528.803 L448.00,528.280 L448.50,527.742 L449.00,527.188 L449.50,526.619 L450.00,526.033 L450.50,525.429 L451.00,524.808 L451.50,524.169 L452.00,523.511 L452.50,522.832 L453.00,522.133 L453.50,521.412 L454.00,520.669 L454.50,519.903 L455.00,519.112 L455.50,518.297 L456.00,517.455 L456.50,516.586 L457.00,515.688 L457.50,514.761 L458.00,513.803 L458.50,512.813 L459.00,511.789 L459.50,510.730 L460.00,509.635 L460.50,508.501 L461.00,507.328 L461.50,506.113 L462.00,504.855 L462.50,503.551 L463.00,502.199 L463.50,500.798 L464.00,499.345 L464.50,497.837 L465.00,496.272 L465.50,494.648 L466.00,492.961 L466.50,491.209 L467.00,489.388 L467.50,487.495 L468.00,485.527 L468.50,483.480 L469.00,481.350 L469.50,479.133 L470.00,476.824 L470.50,474.420 L471.00,471.915 L471.50,469.305 L472.00,466.584 L472.50,463.747 L473.00,460.788 L473.50,457.701 L474.00,454.480 L474.50,451.118 L475.00,447.609 L475.50,443.946 L476.00,440.121 L476.50,436.126 L477.00,431.955 L477.50,427.598 L478.00,423.049 L478.50,418.299 L479.00,413.339 L479.50,408.162 L480.00,402.760 L480.50,397.124 L481.00,391.249 L481.50,385.127 L482.00,378.752 L482.50,372.119 L483.00,365.225 L483.50,358.067 L484.00,350.646 L484.50,342.964 L485.00,335.025 L485.50,326.838 L486.00,318.414 L486.50,309.770 L487.00,300.927 L487.50,291.910 L488.00,282.753 L488.50,273.493 L489.00,264.176 L489.50,254.855 L490.00,245.589 L490.50,236.444 L491.00,227.495 L491.50,218.821 L492.00,210.506 L492.50,202.637 L493.00,195.307 L493.50,188.603 L494.00,182.614 L494.50,177.422 L495.00,173.102 L495.50,169.719 L496.00,167.324 L496.50,165.957 L497.00,165.638 L497.50,166.372 L498.00,168.149 L498.50,170.940 L499.00,174.701 L499.50,179.374 L500.00,184.891 L500.50,191.174 L501.00,198.137 L501.50,205.693 L502.00,213.750 L502.50,222.220 L503.00,231.015 L503.50,240.054 L504.00,249.258 L504.50,258.556 L505.00,267.886 L505.50,277.190 L506.00,286.418 L506.50,295.528 L507.00,304.484 L507.50,313.255 L508.00,321.819 L508.50,330.155 L509.00,338.250 L509.50,346.092 L510.00,353.676 L510.50,360.998 L511.00,368.055 L511.50,374.850 L512.00,381.385 L512.50,387.664 L513.00,393.693 L513.50,399.477 L514.00,405.023 L514.50,410.340 L515.00,415.434 L515.50,420.315 L516.00,424.989 L516.50,429.465 L517.00,433.752 L517.50,437.856 L518.00,441.787 L518.50,445.552 L519.00,449.157 L519.50,452.611 L520.00,455.921 L520.50,459.092 L521.00,462.131 L521.50,465.045 L522.00,467.840 L522.50,470.520 L523.00,473.092 L523.50,475.561 L524.00,477.931 L524.50,480.206 L525.00,482.393 L525.50,484.493 L526.00,486.513 L526.50,488.455 L527.00,490.323 L527.50,492.120 L528.00,493.850 L528.50,495.515 L529.00,497.119 L529.50,498.665 L530.00,500.155 L530.50,501.591 L531.00,502.976 L531.50,504.312 L532.00,505.602 L532.50,506.847 L533.00,508.049 L533.50,509.210 L534.00,510.332 L534.50,511.417 L535.00,512.465 L535.50,513.479 L536.00,514.460 L536.50,515.410 L537.00,516.329 L537.50,517.219 L538.00,518.081 L538.50,518.916 L539.00,519.726 L539.50,520.510 L540.00,521.271 L540.50,522.009 L541.00,522.725 L541.50,523.419 L542.00,524.094 L542.50,524.749 L543.00,525.384 L543.50,526.002 L544.00,526.602 L544.50,527.185 L545.00,527.752 L545.50,528.304 L546.00,528.840 L546.50,529.362 L547.00,529.869 L547.50,530.363 L548.00,530.844 L548.50,531.312 L549.00,531.768 L549.50,532.212 L550.00,532.645 L550.50,533.066 L551.00,533.477 L551.50,533.878 L552.00,534.268 L552.50,534.649 L553.00,535.021 L553.50,535.383 L554.00,535.737 L554.50,536.082 L555.00,536.419 L555.50,536.749 L556.00,537.070 L556.50,537.384 L557.00,537.690 L557.50,537.990 L558.00,538.282 L558.50,538.568 L559.00,538.848 L559.50,539.121 L560.00,539.389 L560.50,539.650 L561.00,539.906 L561.50,540.156 L562.00,540.400 L562.50,540.640 L563.00,540.874 L563.50,541.104 L564.00,541.328 L564.50,541.548 L565.00,541.764 L565.50,541.975 L566.00,542.181 L566.50,542.384 L567.00,542.582 L567.50,542.776 L568.00,542.967 L568.50,543.153 L569.00,543.336 L569.50,543.516 L570.00,543.692 L570.50,543.864 L571.00,544.034 L571.50,544.200 L572.00,544.362 L572.50,544.522 L573.00,544.679 L573.50,544.833 L574.00,544.984 L574.50,545.132 L575.00,545.278 L575.50,545.421 L576.00,545.561 L576.50,545.699 L577.00,545.834 L577.50,545.967 L578.00,546.098 L578.50,546.226 L579.00,546.352 L579.50,546.476 L580.00,546.598 L580.50,546.717 L581.00,546.835 L581.50,546.950 L582.00,547.064 L582.50,547.176 L583.00,547.286 L583.50,547.394 L584.00,547.500 L584.50,547.605 L585.00,547.708 L585.50,547.809 L586.00,547.908 L586.50,548.006 L587.00,548.103 L587.50,548.197 L588.00,548.291 L588.50,548.383 L589.00,548.473 L589.50,548.562 L590.00,548.650 L590.50,548.736 L591.00,548.821 L591.50,548.905 L592.00,548.987 L592.50,549.068 L593.00,549.148 L593.50,549.227 L594.00,549.305 L594.50,549.381 L595.00,549.456 L595.50,549.531 L596.00,549.604 L596.50,549.676 L597.00,549.747 L597.50,549.817 L598.00,549.886 L598.50,549.954 L599.00,550.021 L599.50,550.087 L600.00,550.152 L600.50,550.216 L601.00,550.280 L601.50,550.342 L602.00,550.404 L602.50,550.465 L603.00,550.525 L603.50,550.584 L604.00,550.642 L604.50,550.700 L605.00,550.757 L605.50,550.813 L606.00,550.868 L606.50,550.923 L607.00,550.976 L607.50,551.030 L608.00,551.082 L608.50,551.134 L609.00,551.185 L609.50,551.235 L610.00,551.285 L610.50,551.334 L611.00,551.383 L611.50,551.431 L612.00,551.478 L612.50,551.525 L613.00,551.571 L613.50,551.617 L614.00,551.662 L614.50,551.706 L615.00,551.750 L615.50,551.793 L616.00,551.836 L616.50,551.879 L617.00,551.920 L617.50,551.962 L618.00,552.002 L618.50,552.043 L619.00,552.083 L619.50,552.122 L620.00,552.161 L620.50,552.199 L621.00,552.237 L621.50,552.275 L622.00,552.312 L622.50,552.349 L623.00,552.385 L623.50,552.421 L624.00,552.457 L624.50,552.492 L625.00,552.526 L625.50,552.561 L626.00,552.594 L626.50,552.628 L627.00,552.661 L627.50,552.694 L628.00,552.726 L628.50,552.758 L629.00,552.790 L629.50,552.821 L630.00,552.852 L630.50,552.883 L631.00,552.913 L631.50,552.943 L632.00,552.973 L632.50,553.002 L633.00,553.031 L633.50,553.060 L634.00,553.089 L634.50,553.117 L635.00,553.145 L635.50,553.172 L636.00,553.200 L636.50,553.227 L637.00,553.253 L637.50,553.280 L638.00,553.306 L638.50,553.332 L639.00,553.357 L639.50,553.383 L640.00,553.408 L640.50,553.433 L641.00,553.457 L641.50,553.482 L642.00,553.506 L642.50,553.530 L643.00,553.553 L643.50,553.577 L644.00,553.600 L644.50,553.623 L645.00,553.646 L645.50,553.668 L646.00,553.691 L646.50,553.713 L647.00,553.734 L647.50,553.756 L648.00,553.778 L648.50,553.799 L649.00,553.820 L649.50,553.841 L650.00,553.861 L650.50,553.882 L651.00,553.902 L651.50,553.922 L652.00,553.942 L652.50,553.962 L653.00,553.981 L653.50,554.001 L654.00,554.020 L654.50,554.039 L655.00,554.058 L655.50,554.076 L656.00,554.095 L656.50,554.113 L657.00,554.131 L657.50,554.149 L658.00,554.167 L658.50,554.185 L659.00,554.202 L659.50,554.219 L660.00,554.237 L660.50,554.254 L661.00,554.271 L661.50,554.287 L662.00,554.304 L662.50,554.320 L663.00,554.337 L663.50,554.353 L664.00,554.369 L664.50,554.385 L665.00,554.400 L665.50,554.416 L666.00,554.432 L666.50,554.447 L667.00,554.462 L667.50,554.477 L668.00,554.492 L668.50,554.507 L669.00,554.522 L669.50,554.536 L670.00,554.551 L670.50,554.565 L671.00,554.579 L671.50,554.593 L672.00,554.607 L672.50,554.621 L673.00,554.635 L673.50,554.649 L674.00,554.662 L674.50,554.676 L675.00,554.689 L675.50,554.702 L676.00,554.715 L676.50,554.728 L677.00,554.741 L677.50,554.754 L678.00,554.767 L678.50,554.779 L679.00,554.792 L679.50,554.804 L680.00,554.817 L680.50,554.829 L681.00,554.841 L681.50,554.853 L682.00,554.865 L682.50,554.877 L683.00,554.889 L683.50,554.900 L684.00,554.912 L684.50,554.923 L685.00,554.935 L685.50,554.946 L686.00,554.957 L686.50,554.968 L687.00,554.979 L687.50,554.990 L688.00,555.001 L688.50,555.012 L689.00,555.023 L689.50,555.033 L690.00,555.044 L690.50,555.054 L691.00,555.065 L691.50,555.075 L692.00,555.085 L692.50,555.096 L693.00,555.106 L693.50,555.116 L694.00,555.126 L694.50,555.136 L695.00,555.145 L695.50,555.155 L696.00,555.165 L696.50,555.174 L697.00,555.184 L697.50,555.193 L698.00,555.203 L698.50,555.212 L699.00,555.221 L699.50,555.231 L700.00,555.240 L700.50,555.249 L701.00,555.258 L701.50,555.267 L702.00,555.276 L702.50,555.284 L703.00,555.293 L703.50,555.302 L704.00,555.311 L704.50,555.319 L705.00,555.328 L705.50,555.336 L706.00,555.344 L706.50,555.353 L707.00,555.361 L707.50,555.369 L708.00,555.378 L708.50,555.386 L709.00,555.394 L709.50,555.402 L710.00,555.410 L710.50,555.418 L711.00,555.425 L711.50,555.433 L712.00,555.441 L712.50,555.449 L713.00,555.456 L713.50,555.464 L714.00,555.472 L714.50,555.479 L715.00,555.486 L715.50,555.494 L716.00,555.501 L716.50,555.509 L717.00,555.516 L717.50,555.523 L718.00,555.530 L718.50,555.537 L719.00,555.544 L719.50,555.551 L720.00,555.558 L720.50,555.565 L721.00,555.572 L721.50,555.579 L722.00,555.586 L722.50,555.593 L723.00,555.599 L723.50,555.606 L724.00,555.613 L724.50,555.619 L725.00,555.626 L725.50,555.632 L726.00,555.639 L726.50,555.645 L727.00,555.652 L727.50,555.658 L728.00,555.664 L728.50,555.671 L729.00,555.677 L729.50,555.683 L730.00,555.689 L730.50,555.695 L731.00,555.701 L731.50,555.708 L732.00,555.714 L732.50,555.720 L733.00,555.725 L733.50,555.731 L734.00,555.737 L734.50,555.743 L735.00,555.749 L735.50,555.755 L736.00,555.760 L736.50,555.766 L737.00,555.772 L737.50,555.777 L738.00,555.783 L738.50,555.789 L739.00,555.794 L739.50,555.800 L740.00,555.805 L740.50,555.811 L741.00,555.816 L741.50,555.821 L742.00,555.827 L742.50,555.832 L743.00,555.837 L743.50,555.843 L744.00,555.848 L744.50,555.853 L745.00,555.858 L745.50,555.863 L746.00,555.868 L746.50,555.873 L747.00,555.878 L747.50,555.884 L748.00,555.889 L748.50,555.893 L749.00,555.898 L749.50,555.903 L750.00,555.908 L750.50,555.913 L751.00,555.918 L751.50,555.923 L752.00,555.927 L752.50,555.932 L753.00,555.937 L753.50,555.942 L754.00,555.946 L754.50,555.951 L755.00,555.956 L755.50,555.960 L756.00,555.965 L756.50,555.969 L757.00,555.974 L757.50,555.978 L758.00,555.983 L758.50,555.987 L759.00,555.992 L759.50,555.996 L760.00,556.000 L760.50,556.005 L761.00,556.009 L761.50,556.013 L762.00,556.018 L762.50,556.022 L763.00,556.026 L763.50,556.030 L764.00,556.035 L764.50,556.039 L765.00,556.043 L765.50,556.047 L766.00,556.051 L766.50,556.055 L767.00,556.059 L767.50,556.063 L768.00,556.067 L768.50,556.071 L769.00,556.075 L769.50,556.079 L770.00,556.083 L770.50,556.087 L771.00,556.091 L771.50,556.095 L772.00,556.099 L772.50,556.103 L773.00,556.107 L773.50,556.110 L774.00,556.114 L774.50,556.118 L775.00,556.122 L775.50,556.125 L776.00,556.129 L776.50,556.133 L777.00,556.136 L777.50,556.140 L778.00,556.144 L778.50,556.147 L779.00,556.151 L779.50,556.154 L780.00,556.158 L780.50,556.162 L781.00,556.165 L781.50,556.169 L782.00,556.172 L782.50,556.176 L783.00,556.179 L783.50,556.183 L784.00,556.186 L784.50,556.189 L785.00,556.193 L785.50,556.196 L786.00,556.199 L786.50,556.203 L787.00,556.206 L787.50,556.209 L788.00,556.213 L788.50,556.216 L789.00,556.219 L789.50,556.223 L790.00,556.226 L790.50,556.229 L791.00,556.232 L791.50,556.235 L792.00,556.239 L792.50,556.242 L793.00,556.245 L793.50,556.248 L794.00,556.251 L794.50,556.254 L795.00,556.257 L795.50,556.260 L796.00,556.263 L796.50,556.266 L797.00,556.269 L797.50,556.272 L798.00,556.275 L798.50,556.278 L799.00,556.281 L799.50,556.284 L800.00,556.287 L800.50,556.290 L801.00,556.293 L801.50,556.296 L802.00,556.299 L802.50,556.302 L803.00,556.305 L803.50,556.308 L804.00,556.310 L804.50,556.313 L805.00,556.316 L805.50,556.319 L806.00,556.322 L806.50,556.324 L807.00,556.327 L807.50,556.330 L808.00,556.333 L808.50,556.335 L809.00,556.338 L809.50,556.341 L810.00,556.344" stroke="#996633" stroke-dasharray="0.7 6.49 5.0 6.485"/>
<path id="c-blue" d="M100.00,424.512 L100.50,424.571 L101.00,424.748 L101.50,425.041 L102.00,425.450 L102.50,425.972 L103.00,426.603 L103.50,427.342 L104.00,428.185 L104.50,429.126 L105.00,430.162 L105.50,431.288 L106.00,432.498 L106.50,433.787 L107.00,435.150 L107.50,436.580 L108.00,438.072 L108.50,439.621 L109.00,441.219 L109.50,442.862 L110.00,444.545 L110.50,446.260 L111.00,448.004 L111.50,449.771 L112.00,451.556 L112.50,453.355 L113.00,455.163 L113.50,456.976 L114.00,458.790 L114.50,460.602 L115.00,462.408 L115.50,464.206 L116.00,465.992 L116.50,467.764 L117.00,469.519 L117.50,471.256 L118.00,472.972 L118.50,474.666 L119.00,476.337 L119.50,477.983 L120.00,479.603 L120.50,481.196 L121.00,482.762 L121.50,484.300 L122.00,485.809 L122.50,487.289 L123.00,488.740 L123.50,490.161 L124.00,491.553 L124.50,492.915 L125.00,494.248 L125.50,495.552 L126.00,496.826 L126.50,498.072 L127.00,499.290 L127.50,500.479 L128.00,501.640 L128.50,502.774 L129.00,503.882 L129.50,504.963 L130.00,506.017 L130.50,507.047 L131.00,508.051 L131.50,509.031 L132.00,509.987 L132.50,510.920 L133.00,511.830 L133.50,512.717 L134.00,513.583 L134.50,514.427 L135.00,515.251 L135.50,516.054 L136.00,516.837 L136.50,517.602 L137.00,518.347 L137.50,519.074 L138.00,519.783 L138.50,520.475 L139.00,521.150 L139.50,521.809 L140.00,522.451 L140.50,523.078 L141.00,523.690 L141.50,524.287 L142.00,524.870 L142.50,525.438 L143.00,525.994 L143.50,526.536 L144.00,527.065 L144.50,527.581 L145.00,528.086 L145.50,528.578 L146.00,529.059 L146.50,529.529 L147.00,529.988 L147.50,530.437 L148.00,530.875 L148.50,531.303 L149.00,531.721 L149.50,532.130 L150.00,532.530 L150.50,532.920 L151.00,533.302 L151.50,533.676 L152.00,534.041 L152.50,534.398 L153.00,534.747 L153.50,535.089 L154.00,535.423 L154.50,535.750 L155.00,536.070 L155.50,536.383 L156.00,536.690 L156.50,536.990 L157.00,537.284 L157.50,537.571 L158.00,537.853 L158.50,538.128 L159.00,538.398 L159.50,538.663 L160.00,538.922 L160.50,539.175 L161.00,539.424 L161.50,539.668 L162.00,539.906 L162.50,540.140 L163.00,540.370 L163.50,540.594 L164.00,540.815 L164.50,541.031 L165.00,541.243 L165.50,541.450 L166.00,541.654 L166.50,541.854 L167.00,542.050 L167.50,542.242 L168.00,542.431 L168.50,542.616 L169.00,542.798 L169.50,542.976 L170.00,543.151 L170.50,543.323 L171.00,543.492 L171.50,543.657 L172.00,543.820 L172.50,543.979 L173.00,544.136 L173.50,544.290 L174.00,544.441 L174.50,544.590 L175.00,544.736 L175.50,544.879 L176.00,545.020 L176.50,545.159 L177.00,545.295 L177.50,545.428 L178.00,545.560 L178.50,545.689 L179.00,545.816 L179.50,545.941 L180.00,546.063 L180.50,546.184 L181.00,546.303 L181.50,546.420 L182.00,546.534 L182.50,546.647 L183.00,546.758 L183.50,546.868 L184.00,546.975 L184.50,547.081 L185.00,547.185 L185.50,547.287 L186.00,547.388 L186.50,547.487 L187.00,547.585 L187.50,547.681 L188.00,547.776 L188.50,547.869 L189.00,547.960 L189.50,548.051 L190.00,548.139 L190.50,548.227 L191.00,548.313 L191.50,548.398 L192.00,548.482 L192.50,548.564 L193.00,548.645 L193.50,548.725 L194.00,548.804 L194.50,548.881 L195.00,548.958 L195.50,549.033 L196.00,549.107 L196.50,549.180 L197.00,549.252 L197.50,549.323 L198.00,549.393 L198.50,549.462 L199.00,549.530 L199.50,549.597 L200.00,549.663 L200.50,549.728 L201.00,549.793 L201.50,549.856 L202.00,549.919 L202.50,549.980 L203.00,550.041 L203.50,550.101 L204.00,550.160 L204.50,550.218 L205.00,550.276 L205.50,550.332 L206.00,550.388 L206.50,550.443 L207.00,550.498 L207.50,550.552 L208.00,550.605 L208.50,550.657 L209.00,550.709 L209.50,550.759 L210.00,550.810 L210.50,550.859 L211.00,550.908 L211.50,550.957 L212.00,551.004 L212.50,551.051 L213.00,551.098 L213.50,551.144 L214.00,551.189 L214.50,551.234 L215.00,551.278 L215.50,551.321 L216.00,551.365 L216.50,551.407 L217.00,551.449 L217.50,551.490 L218.00,551.531 L218.50,551.572 L219.00,551.612 L219.50,551.651 L220.00,551.690 L220.50,551.728 L221.00,551.766 L221.50,551.804 L222.00,551.841 L222.50,551.878 L223.00,551.914 L223.50,551.950 L224.00,551.985 L224.50,552.020 L225.00,552.054 L225.50,552.088 L226.00,552.122 L226.50,552.155 L227.00,552.188 L227.50,552.221 L228.00,552.253 L228.50,552.284 L229.00,552.316 L229.50,552.347 L230.00,552.377 L230.50,552.408 L231.00,552.438 L231.50,552.467 L232.00,552.496 L232.50,552.525 L233.00,552.554 L233.50,552.582 L234.00,552.610 L234.50,552.638 L235.00,552.665 L235.50,552.692 L236.00,552.718 L236.50,552.745 L237.00,552.771 L237.50,552.797 L238.00,552.822 L238.50,552.847 L239.00,552.872 L239.50,552.897 L240.00,552.921 L240.50,552.945 L241.00,552.969 L241.50,552.993 L242.00,553.016 L242.50,553.039 L243.00,553.062 L243.50,553.085 L244.00,553.107 L244.50,553.129 L245.00,553.151 L245.50,553.172 L246.00,553.194 L246.50,553.215 L247.00,553.236 L247.50,553.256 L248.00,553.277 L248.50,553.297 L249.00,553.317 L249.50,553.337 L250.00,553.356 L250.50,553.376 L251.00,553.395 L251.50,553.414 L252.00,553.433 L252.50,553.451 L253.00,553.469 L253.50,553.488 L254.00,553.506 L254.50,553.523 L255.00,553.541 L255.50,553.558 L256.00,553.576 L256.50,553.593 L257.00,553.609 L257.50,553.626 L258.00,553.643 L258.50,553.659 L259.00,553.675 L259.50,553.691 L260.00,553.707 L260.50,553.722 L261.00,553.738 L261.50,553.753 L262.00,553.768 L262.50,553.783 L263.00,553.798 L263.50,553.813 L264.00,553.827 L264.50,553.842 L265.00,553.856 L265.50,553.870 L266.00,553.884 L266.50,553.898 L267.00,553.911 L267.50,553.925 L268.00,553.938 L268.50,553.952 L269.00,553.965 L269.50,553.978 L270.00,553.990 L270.50,554.003 L271.00,554.016 L271.50,554.028 L272.00,554.040 L272.50,554.052 L273.00,554.064 L273.50,554.076 L274.00,554.088 L274.50,554.100 L275.00,554.111 L275.50,554.123 L276.00,554.134 L276.50,554.145 L277.00,554.156 L277.50,554.167 L278.00,554.178 L278.50,554.188 L279.00,554.199 L279.50,554.209 L280.00,554.220 L280.50,554.230 L281.00,554.240 L281.50,554.250 L282.00,554.260 L282.50,554.270 L283.00,554.280 L283.50,554.289 L284.00,554.299 L284.50,554.308 L285.00,554.317 L285.50,554.327 L286.00,554.336 L286.50,554.345 L287.00,554.354 L287.50,554.362 L288.00,554.371 L288.50,554.380 L289.00,554.388 L289.50,554.397 L290.00,554.405 L290.50,554.413 L291.00,554.421 L291.50,554.429 L292.00,554.437 L292.50,554.445 L293.00,554.453 L293.50,554.460 L294.00,554.468 L294.50,554.476 L295.00,554.483 L295.50,554.490 L296.00,554.497 L296.50,554.505 L297.00,554.512 L297.50,554.519 L298.00,554.526 L298.50,554.532 L299.00,554.539 L299.50,554.546 L300.00,554.552 L300.50,554.559 L301.00,554.565 L301.50,554.572 L302.00,554.578 L302.50,554.584 L303.00,554.590 L303.50,554.596 L304.00,554.602 L304.50,554.608 L305.00,554.614 L305.50,554.620 L306.00,554.625 L306.50,554.631 L307.00,554.636 L307.50,554.642 L308.00,554.647 L308.50,554.652 L309.00,554.658 L309.50,554.663 L310.00,554.668 L310.50,554.673 L311.00,554.678 L311.50,554.683 L312.00,554.687 L312.50,554.692 L313.00,554.697 L313.50,554.701 L314.00,554.706 L314.50,554.710 L315.00,554.715 L315.50,554.719 L316.00,554.723 L316.50,554.728 L317.00,554.732 L317.50,554.736 L318.00,554.740 L318.50,554.744 L319.00,554.748 L319.50,554.751 L320.00,554.755 L320.50,554.759 L321.00,554.762 L321.50,554.766 L322.00,554.769 L322.50,554.773 L323.00,554.776 L323.50,554.779 L324.00,554.783 L324.50,554.786 L325.00,554.789 L325.50,554.792 L326.00,554.795 L326.50,554.798 L327.00,554.801 L327.50,554.804 L328.00,554.806 L328.50,554.809 L329.00,554.812 L329.50,554.814 L330.00,554.817 L330.50,554.819 L331.00,554.822 L331.50,554.824 L332.00,554.826 L332.50,554.829 L333.00,554.831 L333.50,554.833 L334.00,554.835 L334.50,554.837 L335.00,554.839 L335.50,554.841 L336.00,554.842 L336.50,554.844 L337.00,554.846 L337.50,554.848 L338.00,554.849 L338.50,554.851 L339.00,554.852 L339.50,554.854 L340.00,554.855 L340.50,554.856 L341.00,554.858 L341.50,554.859 L342.00,554.860 L342.50,554.861 L343.00,554.862 L343.50,554.863 L344.00,554.864 L344.50,554.865 L345.00,554.866 L345.50,554.866 L346.00,554.867 L346.50,554.868 L347.00,554.868 L347.50,554.869 L348.00,554.869 L348.50,554.870 L349.00,554.870 L349.50,554.870 L350.00,554.871 L350.50,554.871 L351.00,554.871 L351.50,554.871 L352.00,554.871 L352.50,554.871 L353.00,554.871 L353.50,554.871 L354.00,554.871 L354.50,554.870 L355.00,554.870 L355.50,554.870 L356.00,554.869 L356.50,554.869 L357.00,554.868 L357.50,554.868 L358.00,554.867 L358.50,554.866 L359.00,554.866 L359.50,554.865 L360.00,554.864 L360.50,554.863 L361.00,554.862 L361.50,554.861 L362.00,554.860 L362.50,554.859 L363.00,554.858 L363.50,554.856 L364.00,554.855 L364.50,554.854 L365.00,554.852 L365.50,554.851 L366.00,554.849 L366.50,554.848 L367.00,554.846 L367.50,554.844 L368.00,554.843 L368.50,554.841 L369.00,554.839 L369.50,554.837 L370.00,554.835 L370.50,554.833 L371.00,554.831 L371.50,554.829 L372.00,554.826 L372.50,554.824 L373.00,554.822 L373.50,554.819 L374.00,554.817 L374.50,554.814 L375.00,554.812 L375.50,554.809 L376.00,554.806 L376.50,554.803 L377.00,554.801 L377.50,554.798 L378.00,554.795 L378.50,554.792 L379.00,554.789 L379.50,554.785 L380.00,554.782 L380.50,554.779 L381.00,554.776 L381.50,554.772 L382.00,554.769 L382.50,554.765 L383.00,554.762 L383.50,554.758 L384.00,554.754 L384.50,554.750 L385.00,554.747 L385.50,554.743 L386.00,554.739 L386.50,554.735 L387.00,554.731 L387.50,554.726 L388.00,554.722 L388.50,554.718 L389.00,554.713 L389.50,554.709 L390.00,554.704 L390.50,554.700 L391.00,554.695 L391.50,554.690 L392.00,554.685 L392.50,554.681 L393.00,554.676 L393.50,554.671 L394.00,554.665 L394.50,554.660 L395.00,554.655 L395.50,554.650 L396.00,554.644 L396.50,554.639 L397.00,554.633 L397.50,554.628 L398.00,554.622 L398.50,554.616 L399.00,554.610 L399.50,554.604 L400.00,554.598 L400.50,554.592 L401.00,554.586 L401.50,554.580 L402.00,554.573 L402.50,554.567 L403.00,554.560 L403.50,554.554 L404.00,554.547 L404.50,554.540 L405.00,554.533 L405.50,554.527 L406.00,554.520 L406.50,554.512 L407.00,554.505 L407.50,554.498 L408.00,554.491 L408.50,554.483 L409.00,554.476 L409.50,554.468 L410.00,554.460 L410.50,554.452 L411.00,554.444 L411.50,554.436 L412.00,554.428 L412.50,554.420 L413.00,554.412 L413.50,554.403 L414.00,554.395 L414.50,554.386 L415.00,554.378 L415.50,554.369 L416.00,554.360 L416.50,554.351 L417.00,554.342 L417.50,554.333 L418.00,554.323 L418.50,554.314 L419.00,554.304 L419.50,554.295 L420.00,554.285 L420.50,554.275 L421.00,554.265 L421.50,554.255 L422.00,554.245 L422.50,554.234 L423.00,554.224 L423.50,554.213 L424.00,554.203 L424.50,554.192 L425.00,554.181 L425.50,554.170 L426.00,554.159 L426.50,554.148 L427.00,554.136 L427.50,554.125 L428.00,554.113 L428.50,554.101 L429.00,554.089 L429.50,554.077 L430.00,554.065 L430.50,554.053 L431.00,554.040 L431.50,554.028 L432.00,554.015 L432.50,554.002 L433.00,553.989 L433.50,553.976 L434.00,553.963 L434.50,553.949 L435.00,553.936 L435.50,553.922 L436.00,553.908 L436.50,553.894 L437.00,553.880 L437.50,553.866 L438.00,553.851 L438.50,553.837 L439.00,553.822 L439.50,553.807 L440.00,553.792 L440.50,553.776 L441.00,553.761 L441.50,553.745 L442.00,553.729 L442.50,553.713 L443.00,553.697 L443.50,553.681 L444.00,553.664 L444.50,553.648 L445.00,553.631 L445.50,553.614 L446.00,553.596 L446.50,553.579 L447.00,553.561 L447.50,553.543 L448.00,553.525 L448.50,553.507 L449.00,553.488 L449.50,553.470 L450.00,553.451 L450.50,553.432 L451.00,553.412 L451.50,553.393 L452.00,553.373 L452.50,553.353 L453.00,553.333 L453.50,553.313 L454.00,553.292 L454.50,553.271 L455.00,553.250 L455.50,553.229 L456.00,553.207 L456.50,553.185 L457.00,553.163 L457.50,553.141 L458.00,553.118 L458.50,553.095 L459.00,553.072 L459.50,553.049 L460.00,553.025 L460.50,553.001 L461.00,552.977 L461.50,552.952 L462.00,552.928 L462.50,552.903 L463.00,552.877 L463.50,552.852 L464.00,552.826 L464.50,552.799 L465.00,552.773 L465.50,552.746 L466.00,552.719 L466.50,552.691 L467.00,552.663 L467.50,552.635 L468.00,552.607 L468.50,552.578 L469.00,552.549 L469.50,552.519 L470.00,552.489 L470.50,552.459 L471.00,552.428 L471.50,552.397 L472.00,552.366 L472.50,552.334 L473.00,552.302 L473.50,552.269 L474.00,552.236 L474.50,552.203 L475.00,552.169 L475.50,552.135 L476.00,552.100 L476.50,552.065 L477.00,552.030 L477.50,551.994 L478.00,551.957 L478.50,551.920 L479.00,551.883 L479.50,551.845 L480.00,551.807 L480.50,551.768 L481.00,551.729 L481.50,551.689 L482.00,551.649 L482.50,551.608 L483.00,551.567 L483.50,551.525 L484.00,551.482 L484.50,551.439 L485.00,551.396 L485.50,551.351 L486.00,551.307 L486.50,551.261 L487.00,551.215 L487.50,551.169 L488.00,551.122 L488.50,551.074 L489.00,551.025 L489.50,550.976 L490.00,550.926 L490.50,550.876 L491.00,550.825 L491.50,550.773 L492.00,550.720 L492.50,550.667 L493.00,550.613 L493.50,550.558 L494.00,550.502 L494.50,550.446 L495.00,550.388 L495.50,550.330 L496.00,550.272 L496.50,550.212 L497.00,550.151 L497.50,550.090 L498.00,550.027 L498.50,549.964 L499.00,549.900 L499.50,549.835 L500.00,549.769 L500.50,549.701 L501.00,549.633 L501.50,549.564 L502.00,549.494 L502.50,549.423 L503.00,549.350 L503.50,549.277 L504.00,549.203 L504.50,549.127 L505.00,549.050 L505.50,548.972 L506.00,548.893 L506.50,548.812 L507.00,548.730 L507.50,548.647 L508.00,548.563 L508.50,548.477 L509.00,548.390 L509.50,548.301 L510.00,548.211 L510.50,548.120 L511.00,548.027 L511.50,547.932 L512.00,547.836 L512.50,547.738 L513.00,547.639 L513.50,547.538 L514.00,547.435 L514.50,547.331 L515.00,547.225 L515.50,547.116 L516.00,547.007 L516.50,546.895 L517.00,546.781 L517.50,546.665 L518.00,546.547 L518.50,546.427 L519.00,546.305 L519.50,546.181 L520.00,546.055 L520.50,545.926 L521.00,545.795 L521.50,545.661 L522.00,545.525 L522.50,545.387 L523.00,545.246 L523.50,545.102 L524.00,544.956 L524.50,544.806 L525.00,544.654 L525.50,544.499 L526.00,544.341 L526.50,544.180 L527.00,544.016 L527.50,543.849 L528.00,543.678 L528.50,543.504 L529.00,543.326 L529.50,543.145 L530.00,542.960 L530.50,542.771 L531.00,542.579 L531.50,542.382 L532.00,542.181 L532.50,541.977 L533.00,541.767 L533.50,541.554 L534.00,541.336 L534.50,541.113 L535.00,540.885 L535.50,540.652 L536.00,540.415 L536.50,540.172 L537.00,539.923 L537.50,539.669 L538.00,539.409 L538.50,539.144 L539.00,538.872 L539.50,538.594 L540.00,538.310 L540.50,538.018 L541.00,537.720 L541.50,537.415 L542.00,537.103 L542.50,536.783 L543.00,536.455 L543.50,536.120 L544.00,535.776 L544.50,535.423 L545.00,535.062 L545.50,534.692 L546.00,534.312 L546.50,533.922 L547.00,533.522 L547.50,533.112 L548.00,532.692 L548.50,532.260 L549.00,531.816 L549.50,531.361 L550.00,530.893 L550.50,530.412 L551.00,529.918 L551.50,529.411 L552.00,528.889 L552.50,528.352 L553.00,527.801 L553.50,527.233 L554.00,526.648 L554.50,526.047 L555.00,525.428 L555.50,524.790 L556.00,524.133 L556.50,523.456 L557.00,522.759 L557.50,522.040 L558.00,521.298 L558.50,520.533 L559.00,519.743 L559.50,518.929 L560.00,518.088 L560.50,517.219 L561.00,516.321 L561.50,515.394 L562.00,514.435 L562.50,513.444 L563.00,512.419 L563.50,511.358 L564.00,510.260 L564.50,509.123 L565.00,507.945 L565.50,506.724 L566.00,505.459 L566.50,504.148 L567.00,502.787 L567.50,501.375 L568.00,499.910 L568.50,498.388 L569.00,496.807 L569.50,495.163 L570.00,493.455 L570.50,491.678 L571.00,489.829 L571.50,487.904 L572.00,485.899 L572.50,483.811 L573.00,481.634 L573.50,479.364 L574.00,476.996 L574.50,474.525 L575.00,471.945 L575.50,469.249 L576.00,466.433 L576.50,463.488 L577.00,460.408 L577.50,457.185 L578.00,453.812 L578.50,450.279 L579.00,446.577 L579.50,442.697 L580.00,438.630 L580.50,434.363 L581.00,429.885 L581.50,425.186 L582.00,420.252 L582.50,415.069 L583.00,409.625 L583.50,403.904 L584.00,397.892 L584.50,391.573 L585.00,384.931 L585.50,377.949 L586.00,370.612 L586.50,362.901 L587.00,354.801 L587.50,346.295 L588.00,337.368 L588.50,328.005 L589.00,318.193 L589.50,307.922 L590.00,297.183 L590.50,285.973 L591.00,274.293 L591.50,262.147 L592.00,249.550 L592.50,236.524 L593.00,223.098 L593.50,209.315 L594.00,195.232 L594.50,180.915 L595.00,166.451 L595.50,151.940 L596.00,137.500 L596.50,123.265 L597.00,109.387 L597.50,96.030 L598.00,83.370 L598.50,71.590 L599.00,60.876 L599.50,51.410 L600.00,43.362 L600.50,36.887 L601.00,32.112 L601.50,29.136 L602.00,28.021 L602.50,28.792 L603.00,31.432 L603.50,35.885 L604.00,42.059 L604.50,49.831 L605.00,59.051 L605.50,69.550 L606.00,81.150 L606.50,93.664 L607.00,106.908 L607.50,120.705 L608.00,134.887 L608.50,149.301 L609.00,163.810 L609.50,178.292 L610.00,192.644 L610.50,206.777 L611.00,220.621 L611.50,234.117 L612.00,247.221 L612.50,259.899 L613.00,272.130 L613.50,283.898 L614.00,295.196 L614.50,306.022 L615.00,316.379 L615.50,326.276 L616.00,335.722 L616.50,344.729 L617.00,353.313 L617.50,361.487 L618.00,369.269 L618.50,376.675 L619.00,383.722 L619.50,390.426 L620.00,396.805 L620.50,402.873 L621.00,408.647 L621.50,414.143 L622.00,419.373 L622.50,424.353 L623.00,429.096 L623.50,433.615 L624.00,437.921 L624.50,442.025 L625.00,445.940 L625.50,449.675 L626.00,453.240 L626.50,456.643 L627.00,459.894 L627.50,463.001 L628.00,465.971 L628.50,468.812 L629.00,471.530 L629.50,474.133 L630.00,476.625 L630.50,479.013 L631.00,481.302 L631.50,483.496 L632.00,485.602 L632.50,487.623 L633.00,489.564 L633.50,491.428 L634.00,493.219 L634.50,494.941 L635.00,496.597 L635.50,498.191 L636.00,499.725 L636.50,501.202 L637.00,502.625 L637.50,503.996 L638.00,505.318 L638.50,506.593 L639.00,507.822 L639.50,509.009 L640.00,510.155 L640.50,511.261 L641.00,512.330 L641.50,513.364 L642.00,514.362 L642.50,515.328 L643.00,516.263 L643.50,517.167 L644.00,518.042 L644.50,518.889 L645.00,519.710 L645.50,520.506 L646.00,521.276 L646.50,522.024 L647.00,522.748 L647.50,523.451 L648.00,524.133 L648.50,524.795 L649.00,525.437 L649.50,526.061 L650.00,526.667 L650.50,527.256 L651.00,527.828 L651.50,528.385 L652.00,528.925 L652.50,529.451 L653.00,529.963 L653.50,530.460 L654.00,530.945 L654.50,531.416 L655.00,531.875 L655.50,532.322 L656.00,532.758 L656.50,533.182 L657.00,533.595 L657.50,533.998 L658.00,534.391 L658.50,534.774 L659.00,535.148 L659.50,535.512 L660.00,535.868 L660.50,536.215 L661.00,536.553 L661.50,536.884 L662.00,537.206 L662.50,537.522 L663.00,537.829 L663.50,538.130 L664.00,538.424 L664.50,538.711 L665.00,538.992 L665.50,539.266 L666.00,539.534 L666.50,539.796 L667.00,540.053 L667.50,540.304 L668.00,540.549 L668.50,540.789 L669.00,541.024 L669.50,541.254 L670.00,541.480 L670.50,541.700 L671.00,541.916 L671.50,542.127 L672.00,542.334 L672.50,542.537 L673.00,542.736 L673.50,542.931 L674.00,543.122 L674.50,543.309 L675.00,543.492 L675.50,543.672 L676.00,543.848 L676.50,544.021 L677.00,544.190 L677.50,544.357 L678.00,544.520 L678.50,544.680 L679.00,544.837 L679.50,544.991 L680.00,545.142 L680.50,545.291 L681.00,545.436 L681.50,545.579 L682.00,545.720 L682.50,545.858 L683.00,545.993 L683.50,546.126 L684.00,546.257 L684.50,546.386 L685.00,546.512 L685.50,546.636 L686.00,546.757 L686.50,546.877 L687.00,546.995 L687.50,547.111 L688.00,547.224 L688.50,547.336 L689.00,547.446 L689.50,547.554 L690.00,547.660 L690.50,547.765 L691.00,547.868 L691.50,547.969 L692.00,548.069 L692.50,548.167 L693.00,548.263 L693.50,548.358 L694.00,548.451 L694.50,548.543 L695.00,548.633 L695.50,548.722 L696.00,548.810 L696.50,548.896 L697.00,548.981 L697.50,549.065 L698.00,549.147 L698.50,549.228 L699.00,549.308 L699.50,549.387 L700.00,549.465 L700.50,549.541 L701.00,549.616 L701.50,549.690 L702.00,549.763 L702.50,549.835 L703.00,549.906 L703.50,549.976 L704.00,550.045 L704.50,550.113 L705.00,550.180 L705.50,550.246 L706.00,550.311 L706.50,550.375 L707.00,550.439 L707.50,550.501 L708.00,550.563 L708.50,550.623 L709.00,550.683 L709.50,550.742 L710.00,550.801 L710.50,550.858 L711.00,550.915 L711.50,550.971 L712.00,551.026 L712.50,551.080 L713.00,551.134 L713.50,551.187 L714.00,551.240 L714.50,551.291 L715.00,551.342 L715.50,551.393 L716.00,551.442 L716.50,551.491 L717.00,551.540 L717.50,551.587 L718.00,551.635 L718.50,551.681 L719.00,551.727 L719.50,551.773 L720.00,551.818 L720.50,551.862 L721.00,551.906 L721.50,551.949 L722.00,551.992 L722.50,552.034 L723.00,552.076 L723.50,552.117 L724.00,552.157 L724.50,552.198 L725.00,552.237 L725.50,552.277 L726.00,552.315 L726.50,552.354 L727.00,552.391 L727.50,552.429 L728.00,552.466 L728.50,552.502 L729.00,552.539 L729.50,552.574 L730.00,552.610 L730.50,552.645 L731.00,552.679 L731.50,552.713 L732.00,552.747 L732.50,552.780 L733.00,552.813 L733.50,552.846 L734.00,552.878 L734.50,552.910 L735.00,552.941 L735.50,552.973 L736.00,553.004 L736.50,553.034 L737.00,553.064 L737.50,553.094 L738.00,553.124 L738.50,553.153 L739.00,553.182 L739.50,553.210 L740.00,553.239 L740.50,553.267 L741.00,553.294 L741.50,553.322 L742.00,553.349 L742.50,553.376 L743.00,553.402 L743.50,553.428 L744.00,553.454 L744.50,553.480 L745.00,553.506 L745.50,553.531 L746.00,553.556 L746.50,553.580 L747.00,553.605 L747.50,553.629 L748.00,553.653 L748.50,553.677 L749.00,553.700 L749.50,553.723 L750.00,553.746 L750.50,553.769 L751.00,553.792 L751.50,553.814 L752.00,553.836 L752.50,553.858 L753.00,553.880 L753.50,553.901 L754.00,553.923 L754.50,553.944 L755.00,553.965 L755.50,553.985 L756.00,554.006 L756.50,554.026 L757.00,554.046 L757.50,554.066 L758.00,554.086 L758.50,554.105 L759.00,554.124 L759.50,554.144 L760.00,554.163 L760.50,554.181 L761.00,554.200 L761.50,554.218 L762.00,554.237 L762.50,554.255 L763.00,554.273 L763.50,554.291 L764.00,554.308 L764.50,554.326 L765.00,554.343 L765.50,554.360 L766.00,554.377 L766.50,554.394 L767.00,554.411 L767.50,554.427 L768.00,554.444 L768.50,554.460 L769.00,554.476 L769.50,554.492 L770.00,554.508 L770.50,554.524 L771.00,554.539 L771.50,554.555 L772.00,554.570 L772.50,554.585 L773.00,554.600 L773.50,554.615 L774.00,554.630 L774.50,554.644 L775.00,554.659 L775.50,554.673 L776.00,554.688 L776.50,554.702 L777.00,554.716 L777.50,554.730 L778.00,554.744 L778.50,554.757 L779.00,554.771 L779.50,554.784 L780.00,554.798 L780.50,554.811 L781.00,554.824 L781.50,554.837 L782.00,554.850 L782.50,554.863 L783.00,554.876 L783.50,554.888 L784.00,554.901 L784.50,554.913 L785.00,554.926 L785.50,554.938 L786.00,554.950 L786.50,554.962 L787.00,554.974 L787.50,554.986 L788.00,554.997 L788.50,555.009 L789.00,555.021 L789.50,555.032 L790.00,555.044 L790.50,555.055 L791.00,555.066 L791.50,555.077 L792.00,555.088 L792.50,555.099 L793.00,555.110 L793.50,555.121 L794.00,555.131 L794.50,555.142 L795.00,555.153 L795.50,555.163 L796.00,555.173 L796.50,555.184 L797.00,555.194 L797.50,555.204 L798.00,555.214 L798.50,555.224 L799.00,555.234 L799.50,555.244 L800.00,555.254 L800.50,555.263 L801.00,555.273 L801.50,555.283 L802.00,555.292 L802.50,555.302 L803.00,555.311 L803.50,555.320 L804.00,555.329 L804.50,555.339 L805.00,555.348 L805.50,555.357 L806.00,555.366 L806.50,555.375 L807.00,555.383 L807.50,555.392 L808.00,555.401 L808.50,555.409 L809.00,555.418 L809.50,555.427 L810.00,555.435" stroke="#0000ff" stroke-dasharray="7.0 7.75"/>
</g>
<!-- frame -->
<rect x="85.1" y="0.35" width="739.85" height="581.65" fill="none" stroke="#000" stroke-width="1.6"/>
<g stroke="#000">
<line x1="100.00" y1="582.00" x2="100.00" y2="576.20" stroke-width="1.45"/>
<line x1="100.00" y1="0.35" x2="100.00" y2="6.15" stroke-width="1.45"/>
<line x1="135.50" y1="582.00" x2="135.50" y2="578.40" stroke-width="1.20"/>
<line x1="135.50" y1="0.35" x2="135.50" y2="3.95" stroke-width="1.20"/>
<line x1="171.00" y1="582.00" x2="171.00" y2="578.40" stroke-width="1.20"/>
<line x1="171.00" y1="0.35" x2="171.00" y2="3.95" stroke-width="1.20"/>
<line x1="206.50" y1="582.00" x2="206.50" y2="578.40" stroke-width="1.20"/>
<line x1="206.50" y1="0.35" x2="206.50" y2="3.95" stroke-width="1.20"/>
<line x1="242.00" y1="582.00" x2="242.00" y2="578.40" stroke-width="1.20"/>
<line x1="242.00" y1="0.35" x2="242.00" y2="3.95" stroke-width="1.20"/>
<line x1="277.50" y1="582.00" x2="277.50" y2="576.20" stroke-width="1.45"/>
<line x1="277.50" y1="0.35" x2="277.50" y2="6.15" stroke-width="1.45"/>
<line x1="313.00" y1="582.00" x2="313.00" y2="578.40" stroke-width="1.20"/>
<line x1="313.00" y1="0.35" x2="313.00" y2="3.95" stroke-width="1.20"/>
<line x1="348.50" y1="582.00" x2="348.50" y2="578.40" stroke-width="1.20"/>
<line x1="348.50" y1="0.35" x2="348.50" y2="3.95" stroke-width="1.20"/>
<line x1="384.00" y1="582.00" x2="384.00" y2="578.40" stroke-width="1.20"/>
<line x1="384.00" y1="0.35" x2="384.00" y2="3.95" stroke-width="1.20"/>
<line x1="419.50" y1="582.00" x2="419.50" y2="578.40" stroke-width="1.20"/>
<line x1="419.50" y1="0.35" x2="419.50" y2="3.95" stroke-width="1.20"/>
<line x1="455.00" y1="582.00" x2="455.00" y2="576.20" stroke-width="1.45"/>
<line x1="455.00" y1="0.35" x2="455.00" y2="6.15" stroke-width="1.45"/>
<line x1="490.50" y1="582.00" x2="490.50" y2="578.40" stroke-width="1.20"/>
<line x1="490.50" y1="0.35" x2="490.50" y2="3.95" stroke-width="1.20"/>
<line x1="526.00" y1="582.00" x2="526.00" y2="578.40" stroke-width="1.20"/>
<line x1="526.00" y1="0.35" x2="526.00" y2="3.95" stroke-width="1.20"/>
<line x1="561.50" y1="582.00" x2="561.50" y2="578.40" stroke-width="1.20"/>
<line x1="561.50" y1="0.35" x2="561.50" y2="3.95" stroke-width="1.20"/>
<line x1="597.00" y1="582.00" x2="597.00" y2="578.40" stroke-width="1.20"/>
<line x1="597.00" y1="0.35" x2="597.00" y2="3.95" stroke-width="1.20"/>
<line x1="632.50" y1="582.00" x2="632.50" y2="576.20" stroke-width="1.45"/>
<line x1="632.50" y1="0.35" x2="632.50" y2="6.15" stroke-width="1.45"/>
<line x1="668.00" y1="582.00" x2="668.00" y2="578.40" stroke-width="1.20"/>
<line x1="668.00" y1="0.35" x2="668.00" y2="3.95" stroke-width="1.20"/>
<line x1="703.50" y1="582.00" x2="703.50" y2="578.40" stroke-width="1.20"/>
<line x1="703.50" y1="0.35" x2="703.50" y2="3.95" stroke-width="1.20"/>
<line x1="739.00" y1="582.00" x2="739.00" y2="578.40" stroke-width="1.20"/>
<line x1="739.00" y1="0.35" x2="739.00" y2="3.95" stroke-width="1.20"/>
<line x1="774.50" y1="582.00" x2="774.50" y2="578.40" stroke-width="1.20"/>
<line x1="774.50" y1="0.35" x2="774.50" y2="3.95" stroke-width="1.20"/>
<line x1="810.00" y1="582.00" x2="810.00" y2="576.20" stroke-width="1.45"/>
<line x1="810.00" y1="0.35" x2="810.00" y2="6.15" stroke-width="1.45"/>
<line x1="85.10" y1="550.35" x2="90.90" y2="550.35" stroke-width="1.45"/>
<line x1="824.95" y1="550.35" x2="819.15" y2="550.35" stroke-width="1.45"/>
<line x1="85.10" y1="518.91" x2="88.70" y2="518.91" stroke-width="1.20"/>
<line x1="824.95" y1="518.91" x2="821.35" y2="518.91" stroke-width="1.20"/>
<line x1="85.10" y1="487.47" x2="88.70" y2="487.47" stroke-width="1.20"/>
<line x1="824.95" y1="487.47" x2="821.35" y2="487.47" stroke-width="1.20"/>
<line x1="85.10" y1="456.03" x2="88.70" y2="456.03" stroke-width="1.20"/>
<line x1="824.95" y1="456.03" x2="821.35" y2="456.03" stroke-width="1.20"/>
<line x1="85.10" y1="424.59" x2="88.70" y2="424.59" stroke-width="1.20"/>
<line x1="824.95" y1="424.59" x2="821.35" y2="424.59" stroke-width="1.20"/>
<line x1="85.10" y1="393.15" x2="90.90" y2="393.15" stroke-width="1.45"/>
<line x1="824.95" y1="393.15" x2="819.15" y2="393.15" stroke-width="1.45"/>
<line x1="85.10" y1="361.71" x2="88.70" y2="361.71" stroke-width="1.20"/>
<line x1="824.95" y1="361.71" x2="821.35" y2="361.71" stroke-width="1.20"/>
<line x1="85.10" y1="330.27" x2="88.70" y2="330.27" stroke-width="1.20"/>
<line x1="824.95" y1="330.27" x2="821.35" y2="330.27" stroke-width="1.20"/>
<line x1="85.10" y1="298.83" x2="88.70" y2="298.83" stroke-width="1.20"/>
<line x1="824.95" y1="298.83" x2="821.35" y2="298.83" stroke-width="1.20"/>
<line x1="85.10" y1="267.39" x2="88.70" y2="267.39" stroke-width="1.20"/>
<line x1="824.95" y1="267.39" x2="821.35" y2="267.39" stroke-width="1.20"/>
<line x1="85.10" y1="235.95" x2="90.90" y2="235.95" stroke-width="1.45"/>
<line x1="824.95" y1="235.95" x2="819.15" y2="235.95" stroke-width="1.45"/>
<line x1="85.10" y1="204.51" x2="88.70" y2="204.51" stroke-width="1.20"/>
<line x1="824.95" y1="204.51" x2="821.35" y2="204.51" stroke-width="1.20"/>
<line x1="85.10" y1="173.07" x2="88.70" y2="173.07" stroke-width="1.20"/>
<line x1="824.95" y1="173.07" x2="821.35" y2="173.07" stroke-width="1.20"/>
<line x1="85.10" y1="141.63" x2="88.70" y2="141.63" stroke-width="1.20"/>
<line x1="824.95" y1="141.63" x2="821.35" y2="141.63" stroke-width="1.20"/>
<line x1="85.10" y1="110.19" x2="88.70" y2="110.19" stroke-width="1.20"/>
<line x1="824.95" y1="110.19" x2="821.35" y2="110.19" stroke-width="1.20"/>
<line x1="85.10" y1="78.75" x2="90.90" y2="78.75" stroke-width="1.45"/>
<line x1="824.95" y1="78.75" x2="819.15" y2="78.75" stroke-width="1.45"/>
<line x1="85.10" y1="47.31" x2="88.70" y2="47.31" stroke-width="1.20"/>
<line x1="824.95" y1="47.31" x2="821.35" y2="47.31" stroke-width="1.20"/>
<line x1="85.10" y1="15.87" x2="88.70" y2="15.87" stroke-width="1.20"/>
<line x1="824.95" y1="15.87" x2="821.35" y2="15.87" stroke-width="1.20"/>
</g>
<!-- tick labels -->
<g stroke-width="0.3">
<text x="100.00" y="612.3" text-anchor="middle" font-size="29.5">0.0</text>
<text x="277.50" y="612.3" text-anchor="middle" font-size="29.5">0.5</text>
<text x="455.50" y="612.3" text-anchor="middle" font-size="29.5">1.0</text>
<text x="633.00" y="612.3" text-anchor="middle" font-size="29.5">1.5</text>
<text x="810.00" y="612.3" text-anchor="middle" font-size="29.5">2.0</text>
<text x="80.6" y="559.95" text-anchor="end" font-size="29.5">0.0</text>
<text x="80.6" y="402.75" text-anchor="end" font-size="29.5">0.5</text>
<text x="80.6" y="245.55" text-anchor="end" font-size="29.5">1.0</text>
<text x="80.6" y="88.35" text-anchor="end" font-size="29.5">1.5</text>
</g>
<!-- legend -->
<g fill="none" stroke-width="2.3">
<line x1="140.1" y1="49.3" x2="196.5" y2="49.3" stroke="#ff0000"/>
<line x1="140.2" y1="100.1" x2="194" y2="100.1" stroke="#996633" stroke-width="2.7" stroke-dasharray="3.4 3.7 7.9 3.7"/>
<line x1="140.2" y1="151.05" x2="196.5" y2="151.05" stroke="#0000ff" stroke-width="2.7" stroke-dasharray="7.4 2.3"/>
</g>
<g id="legend">
<text class="i" font-size="27.6" stroke-width="0.35" transform="translate(214.35,59.55) scale(1.0251,1.0900)">c</text>
<text class="i" font-size="19.6" stroke-width="0.30" transform="translate(226.37,63.85) scale(1.0513,1.0500)">Q</text>
<text font-size="27.6" stroke-width="0.40" transform="translate(243.60,60.15) scale(0.8799,1.1200)">/</text>
<text class="i" font-size="27.6" stroke-width="0.35" transform="translate(253.34,59.55) scale(1.0339,1.0900)">c</text>
<text font-size="19.6" stroke-width="0.30" transform="translate(264.15,63.85) scale(1.2117,1.0000)">s</text>
<text font-size="19.6" stroke-width="0.30" transform="translate(274.22,63.85) scale(0.9856,1.0000)">0</text>
<rect x="294.4" y="48.50" width="13.4" height="2.3"/><rect x="294.4" y="55.10" width="13.4" height="2.3"/>
<text font-size="27.6" stroke-width="0.20" transform="translate(317.70,59.55) scale(1.0870,1.0000)">0</text>
<text class="i" font-size="27.6" stroke-width="0.35" transform="translate(214.35,110.60) scale(1.0251,1.0900)">c</text>
<text class="i" font-size="19.6" stroke-width="0.30" transform="translate(226.37,114.90) scale(1.0513,1.0500)">Q</text>
<text font-size="27.6" stroke-width="0.40" transform="translate(243.60,111.20) scale(0.8799,1.1200)">/</text>
<text class="i" font-size="27.6" stroke-width="0.35" transform="translate(253.34,110.60) scale(1.0339,1.0900)">c</text>
<text font-size="19.6" stroke-width="0.30" transform="translate(264.15,114.90) scale(1.2117,1.0000)">s</text>
<text font-size="19.6" stroke-width="0.30" transform="translate(274.22,114.90) scale(0.9856,1.0000)">0</text>
<rect x="294.4" y="99.55" width="13.4" height="2.3"/><rect x="294.4" y="106.15" width="13.4" height="2.3"/>
<text font-size="27.6" stroke-width="0.20" transform="translate(317.50,110.60) scale(1.0870,1.0000)">0.5</text>
<text class="i" font-size="27.6" stroke-width="0.35" transform="translate(214.35,161.70) scale(1.0251,1.0900)">c</text>
<text class="i" font-size="19.6" stroke-width="0.30" transform="translate(226.37,166.00) scale(1.0513,1.0500)">Q</text>
<text font-size="27.6" stroke-width="0.40" transform="translate(243.60,162.30) scale(0.8799,1.1200)">/</text>
<text class="i" font-size="27.6" stroke-width="0.35" transform="translate(253.34,161.70) scale(1.0339,1.0900)">c</text>
<text font-size="19.6" stroke-width="0.30" transform="translate(264.15,166.00) scale(1.2117,1.0000)">s</text>
<text font-size="19.6" stroke-width="0.30" transform="translate(274.22,166.00) scale(0.9856,1.0000)">0</text>
<rect x="294.4" y="150.65" width="13.4" height="2.3"/><rect x="294.4" y="157.25" width="13.4" height="2.3"/>
<text font-size="27.6" stroke-width="0.20" transform="translate(318.27,161.70) scale(0.9662,1.0000)">1</text>
</g>
<!-- x label -->
<g id="xl">
<text class="si" font-size="27.0" stroke-width="0.35" transform="translate(415.32,653.80) scale(1.0461,0.9300)">ω</text>
<text font-size="30.0" stroke-width="0.40" transform="translate(437.50,654.50) scale(0.8333,1.0900)">/</text>
<text font-size="30.0" stroke-width="0.40" transform="translate(445.90,653.80) scale(0.9864,1.0450)">k</text>
<text font-size="30.0" stroke-width="0.40" transform="translate(461.28,653.80) scale(1.0171,1.0000)">c</text>
<text font-size="20.0" stroke-width="0.30" transform="translate(474.46,658.40) scale(1.0469,1.0000)">s</text>
<text font-size="20.0" stroke-width="0.30" transform="translate(483.44,658.40) scale(1.1023,1.0000)">0</text>
</g>
<!-- y label -->
<g id="yl" transform="translate(26.0,428.7) rotate(-90)">
<text font-size="30.0" stroke-width="0.40" transform="translate(-0.51,0.00) scale(0.9268,1.0000)">2</text>
<text class="i" font-size="30.0" stroke-width="0.35" transform="translate(14.40,0.00) scale(1.1384,1.0000)">π</text>
<text font-size="30.0" stroke-width="0.40" transform="translate(33.18,0.00) scale(1.0544,1.0300)">k</text>
<text font-size="30.0" stroke-width="0.40" transform="translate(49.83,0.00) scale(0.9658,1.0000)">c</text>
<text font-size="20.0" stroke-width="0.30" transform="translate(63.36,4.60) scale(0.9219,1.0000)">s</text>
<text font-size="20.0" stroke-width="0.30" transform="translate(71.75,4.60) scale(1.0795,1.0000)">0</text>
<text class="i" font-size="30.0" stroke-width="0.35" transform="translate(86.42,0.00) scale(0.9375,1.0000)">S</text>
<text font-size="20.0" stroke-width="0.30" transform="translate(99.21,4.60) scale(1.2216,1.0000)">nn</text>
<text font-size="30.0" stroke-width="0.40" transform="translate(127.83,0.00) scale(0.7284,1.0000)">(</text>
<text font-size="30.0" stroke-width="0.40" transform="translate(137.12,0.00) scale(0.9456,1.0300)">k</text>
<text font-size="30.0" stroke-width="0.40" transform="translate(152.02,0.00) scale(0.6458,1.0000)">,</text>
<text class="si" font-size="27.0" stroke-width="0.35" transform="translate(160.06,0.00) scale(0.9945,0.9300)">ω</text>
<text font-size="30.0" stroke-width="0.40" transform="translate(181.57,0.00) scale(0.8077,1.0000)">)</text>
<text font-size="30.0" stroke-width="0.40" transform="translate(191.30,0.70) scale(0.8333,1.0900)">/</text>
<text class="i" font-size="30.0" stroke-width="0.35" transform="translate(201.21,0.00) scale(0.9583,1.0000)">S</text>
<text font-size="20.0" stroke-width="0.30" transform="translate(214.41,4.60) scale(1.2371,1.0000)">nn</text>
<text font-size="30.0" stroke-width="0.40" transform="translate(242.93,0.00) scale(0.7284,1.0000)">(</text>
<text font-size="30.0" stroke-width="0.40" transform="translate(251.51,0.00) scale(0.9728,1.0300)">k</text>
<text font-size="30.0" stroke-width="0.40" transform="translate(266.51,0.00) scale(0.7628,1.0000)">)</text>
</g>
</svg>
</body></html>
